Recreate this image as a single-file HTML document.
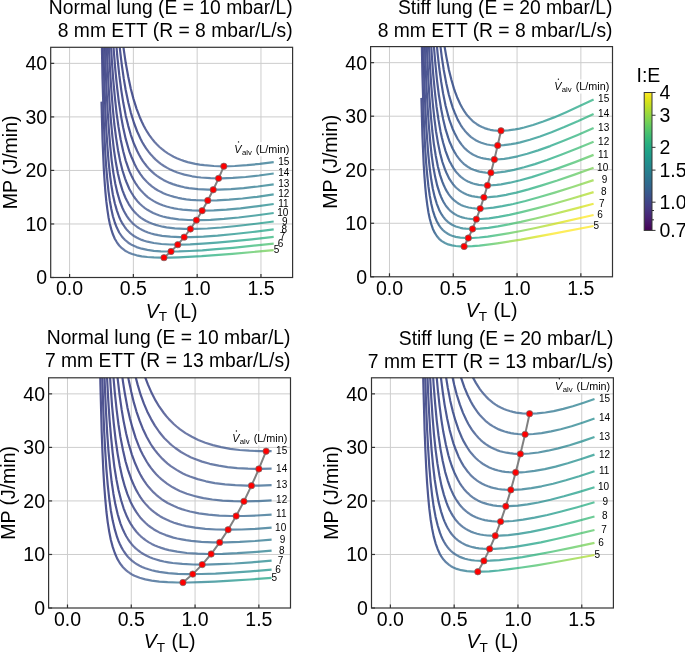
<!DOCTYPE html>
<html><head><meta charset="utf-8"><style>html,body{margin:0;padding:0;background:#fff;}body{width:685px;height:653px;overflow:hidden;font-family:"Liberation Sans", sans-serif;}svg{display:block;will-change:transform;}</style></head>
<body><svg width="685" height="653" viewBox="0 0 685 653" font-family='"Liberation Sans", sans-serif'><defs><clipPath id="c0"><rect x="50.7" y="47.3" width="241.9" height="230.2"/></clipPath><linearGradient id="g1" gradientUnits="userSpaceOnUse" x1="101.48" y1="0" x2="273.72" y2="0"><stop offset="0.0000" stop-color="#404688" stop-opacity="0.92"/><stop offset="0.0023" stop-color="#404688" stop-opacity="0.92"/><stop offset="0.0081" stop-color="#404688" stop-opacity="0.92"/><stop offset="0.0168" stop-color="#3f4788" stop-opacity="0.92"/><stop offset="0.0283" stop-color="#3f4889" stop-opacity="0.92"/><stop offset="0.0423" stop-color="#3e4989" stop-opacity="0.92"/><stop offset="0.0587" stop-color="#3e4a89" stop-opacity="0.92"/><stop offset="0.0774" stop-color="#3d4e8a" stop-opacity="0.87"/><stop offset="0.0985" stop-color="#3c508b" stop-opacity="0.80"/><stop offset="0.1217" stop-color="#3a548c" stop-opacity="0.75"/><stop offset="0.1471" stop-color="#38598c" stop-opacity="0.75"/><stop offset="0.1747" stop-color="#355e8d" stop-opacity="0.75"/><stop offset="0.2043" stop-color="#32648e" stop-opacity="0.75"/><stop offset="0.2359" stop-color="#306a8e" stop-opacity="0.75"/><stop offset="0.2696" stop-color="#2d708e" stop-opacity="0.75"/><stop offset="0.3052" stop-color="#2a768e" stop-opacity="0.75"/><stop offset="0.3428" stop-color="#287d8e" stop-opacity="0.75"/><stop offset="0.3824" stop-color="#25848e" stop-opacity="0.75"/><stop offset="0.4238" stop-color="#228c8d" stop-opacity="0.75"/><stop offset="0.4671" stop-color="#20928c" stop-opacity="0.75"/><stop offset="0.5123" stop-color="#1f9a8a" stop-opacity="0.75"/><stop offset="0.5593" stop-color="#1fa187" stop-opacity="0.75"/><stop offset="0.6082" stop-color="#23a983" stop-opacity="0.75"/><stop offset="0.6589" stop-color="#29af7f" stop-opacity="0.75"/><stop offset="0.7113" stop-color="#34b679" stop-opacity="0.75"/><stop offset="0.7656" stop-color="#3fbc73" stop-opacity="0.75"/><stop offset="0.8216" stop-color="#4cc26c" stop-opacity="0.75"/><stop offset="0.8793" stop-color="#5cc863" stop-opacity="0.75"/><stop offset="0.9388" stop-color="#6ccd5a" stop-opacity="0.75"/><stop offset="1.0000" stop-color="#7ad151" stop-opacity="0.75"/></linearGradient><linearGradient id="g2" gradientUnits="userSpaceOnUse" x1="101.48" y1="0" x2="273.72" y2="0"><stop offset="0.0000" stop-color="#404588" stop-opacity="0.92"/><stop offset="0.0023" stop-color="#404688" stop-opacity="0.92"/><stop offset="0.0081" stop-color="#404688" stop-opacity="0.92"/><stop offset="0.0168" stop-color="#404688" stop-opacity="0.92"/><stop offset="0.0283" stop-color="#3f4788" stop-opacity="0.92"/><stop offset="0.0423" stop-color="#3f4889" stop-opacity="0.92"/><stop offset="0.0587" stop-color="#3e4989" stop-opacity="0.92"/><stop offset="0.0774" stop-color="#3e4a89" stop-opacity="0.92"/><stop offset="0.0985" stop-color="#3d4d8a" stop-opacity="0.86"/><stop offset="0.1217" stop-color="#3c508b" stop-opacity="0.79"/><stop offset="0.1471" stop-color="#3a538b" stop-opacity="0.75"/><stop offset="0.1747" stop-color="#38588c" stop-opacity="0.75"/><stop offset="0.2043" stop-color="#365c8d" stop-opacity="0.75"/><stop offset="0.2359" stop-color="#34618d" stop-opacity="0.75"/><stop offset="0.2696" stop-color="#31668e" stop-opacity="0.75"/><stop offset="0.3052" stop-color="#2f6c8e" stop-opacity="0.75"/><stop offset="0.3428" stop-color="#2c718e" stop-opacity="0.75"/><stop offset="0.3824" stop-color="#2a788e" stop-opacity="0.75"/><stop offset="0.4238" stop-color="#277e8e" stop-opacity="0.75"/><stop offset="0.4671" stop-color="#25848e" stop-opacity="0.75"/><stop offset="0.5123" stop-color="#228b8d" stop-opacity="0.75"/><stop offset="0.5593" stop-color="#20928c" stop-opacity="0.75"/><stop offset="0.6082" stop-color="#1f988b" stop-opacity="0.75"/><stop offset="0.6589" stop-color="#1f9f88" stop-opacity="0.75"/><stop offset="0.7113" stop-color="#21a585" stop-opacity="0.75"/><stop offset="0.7656" stop-color="#25ac82" stop-opacity="0.75"/><stop offset="0.8216" stop-color="#2db27d" stop-opacity="0.75"/><stop offset="0.8793" stop-color="#37b878" stop-opacity="0.75"/><stop offset="0.9388" stop-color="#42be71" stop-opacity="0.75"/><stop offset="1.0000" stop-color="#4ec36b" stop-opacity="0.75"/></linearGradient><linearGradient id="g3" gradientUnits="userSpaceOnUse" x1="101.48" y1="0" x2="273.72" y2="0"><stop offset="0.0000" stop-color="#404588" stop-opacity="0.92"/><stop offset="0.0023" stop-color="#404588" stop-opacity="0.92"/><stop offset="0.0081" stop-color="#404688" stop-opacity="0.92"/><stop offset="0.0168" stop-color="#404688" stop-opacity="0.92"/><stop offset="0.0283" stop-color="#404688" stop-opacity="0.92"/><stop offset="0.0423" stop-color="#3f4788" stop-opacity="0.92"/><stop offset="0.0587" stop-color="#3f4889" stop-opacity="0.92"/><stop offset="0.0774" stop-color="#3e4989" stop-opacity="0.92"/><stop offset="0.0985" stop-color="#3e4a89" stop-opacity="0.91"/><stop offset="0.1217" stop-color="#3d4d8a" stop-opacity="0.85"/><stop offset="0.1471" stop-color="#3c508b" stop-opacity="0.78"/><stop offset="0.1747" stop-color="#3a538b" stop-opacity="0.75"/><stop offset="0.2043" stop-color="#39568c" stop-opacity="0.75"/><stop offset="0.2359" stop-color="#375b8d" stop-opacity="0.75"/><stop offset="0.2696" stop-color="#355f8d" stop-opacity="0.75"/><stop offset="0.3052" stop-color="#32648e" stop-opacity="0.75"/><stop offset="0.3428" stop-color="#30698e" stop-opacity="0.75"/><stop offset="0.3824" stop-color="#2e6f8e" stop-opacity="0.75"/><stop offset="0.4238" stop-color="#2b748e" stop-opacity="0.75"/><stop offset="0.4671" stop-color="#297a8e" stop-opacity="0.75"/><stop offset="0.5123" stop-color="#27808e" stop-opacity="0.75"/><stop offset="0.5593" stop-color="#25858e" stop-opacity="0.75"/><stop offset="0.6082" stop-color="#228c8d" stop-opacity="0.75"/><stop offset="0.6589" stop-color="#20928c" stop-opacity="0.75"/><stop offset="0.7113" stop-color="#1f988b" stop-opacity="0.75"/><stop offset="0.7656" stop-color="#1f9e89" stop-opacity="0.75"/><stop offset="0.8216" stop-color="#20a486" stop-opacity="0.75"/><stop offset="0.8793" stop-color="#24aa83" stop-opacity="0.75"/><stop offset="0.9388" stop-color="#29af7f" stop-opacity="0.75"/><stop offset="1.0000" stop-color="#32b67a" stop-opacity="0.75"/></linearGradient><linearGradient id="g4" gradientUnits="userSpaceOnUse" x1="101.48" y1="0" x2="273.72" y2="0"><stop offset="0.0000" stop-color="#404588" stop-opacity="0.92"/><stop offset="0.0023" stop-color="#404588" stop-opacity="0.92"/><stop offset="0.0081" stop-color="#404588" stop-opacity="0.92"/><stop offset="0.0168" stop-color="#404688" stop-opacity="0.92"/><stop offset="0.0283" stop-color="#404688" stop-opacity="0.92"/><stop offset="0.0423" stop-color="#404688" stop-opacity="0.92"/><stop offset="0.0587" stop-color="#3f4788" stop-opacity="0.92"/><stop offset="0.0774" stop-color="#3f4889" stop-opacity="0.92"/><stop offset="0.0985" stop-color="#3e4989" stop-opacity="0.92"/><stop offset="0.1217" stop-color="#3e4c8a" stop-opacity="0.89"/><stop offset="0.1471" stop-color="#3d4e8a" stop-opacity="0.83"/><stop offset="0.1747" stop-color="#3c508b" stop-opacity="0.76"/><stop offset="0.2043" stop-color="#3a538b" stop-opacity="0.75"/><stop offset="0.2359" stop-color="#39568c" stop-opacity="0.75"/><stop offset="0.2696" stop-color="#375a8c" stop-opacity="0.75"/><stop offset="0.3052" stop-color="#355e8d" stop-opacity="0.75"/><stop offset="0.3428" stop-color="#33638d" stop-opacity="0.75"/><stop offset="0.3824" stop-color="#31688e" stop-opacity="0.75"/><stop offset="0.4238" stop-color="#2e6d8e" stop-opacity="0.75"/><stop offset="0.4671" stop-color="#2c718e" stop-opacity="0.75"/><stop offset="0.5123" stop-color="#2a768e" stop-opacity="0.75"/><stop offset="0.5593" stop-color="#287c8e" stop-opacity="0.75"/><stop offset="0.6082" stop-color="#26828e" stop-opacity="0.75"/><stop offset="0.6589" stop-color="#24878e" stop-opacity="0.75"/><stop offset="0.7113" stop-color="#228d8d" stop-opacity="0.75"/><stop offset="0.7656" stop-color="#20928c" stop-opacity="0.75"/><stop offset="0.8216" stop-color="#1f988b" stop-opacity="0.75"/><stop offset="0.8793" stop-color="#1f9e89" stop-opacity="0.75"/><stop offset="0.9388" stop-color="#20a386" stop-opacity="0.75"/><stop offset="1.0000" stop-color="#23a983" stop-opacity="0.75"/></linearGradient><linearGradient id="g5" gradientUnits="userSpaceOnUse" x1="101.48" y1="0" x2="273.72" y2="0"><stop offset="0.0000" stop-color="#404588" stop-opacity="0.92"/><stop offset="0.0023" stop-color="#404588" stop-opacity="0.92"/><stop offset="0.0081" stop-color="#404588" stop-opacity="0.92"/><stop offset="0.0168" stop-color="#404588" stop-opacity="0.92"/><stop offset="0.0283" stop-color="#404688" stop-opacity="0.92"/><stop offset="0.0423" stop-color="#404688" stop-opacity="0.92"/><stop offset="0.0587" stop-color="#3f4788" stop-opacity="0.92"/><stop offset="0.0774" stop-color="#3f4788" stop-opacity="0.92"/><stop offset="0.0985" stop-color="#3f4889" stop-opacity="0.92"/><stop offset="0.1217" stop-color="#3e4a89" stop-opacity="0.92"/><stop offset="0.1471" stop-color="#3e4c8a" stop-opacity="0.87"/><stop offset="0.1747" stop-color="#3d4e8a" stop-opacity="0.81"/><stop offset="0.2043" stop-color="#3c508b" stop-opacity="0.75"/><stop offset="0.2359" stop-color="#3a538b" stop-opacity="0.75"/><stop offset="0.2696" stop-color="#39568c" stop-opacity="0.75"/><stop offset="0.3052" stop-color="#375a8c" stop-opacity="0.75"/><stop offset="0.3428" stop-color="#355e8d" stop-opacity="0.75"/><stop offset="0.3824" stop-color="#33628d" stop-opacity="0.75"/><stop offset="0.4238" stop-color="#31668e" stop-opacity="0.75"/><stop offset="0.4671" stop-color="#2f6b8e" stop-opacity="0.75"/><stop offset="0.5123" stop-color="#2d708e" stop-opacity="0.75"/><stop offset="0.5593" stop-color="#2b748e" stop-opacity="0.75"/><stop offset="0.6082" stop-color="#29798e" stop-opacity="0.75"/><stop offset="0.6589" stop-color="#277f8e" stop-opacity="0.75"/><stop offset="0.7113" stop-color="#25838e" stop-opacity="0.75"/><stop offset="0.7656" stop-color="#23898e" stop-opacity="0.75"/><stop offset="0.8216" stop-color="#218f8d" stop-opacity="0.75"/><stop offset="0.8793" stop-color="#20938c" stop-opacity="0.75"/><stop offset="0.9388" stop-color="#1f998a" stop-opacity="0.75"/><stop offset="1.0000" stop-color="#1f9f88" stop-opacity="0.75"/></linearGradient><linearGradient id="g6" gradientUnits="userSpaceOnUse" x1="101.48" y1="0" x2="273.72" y2="0"><stop offset="0.0000" stop-color="#404588" stop-opacity="0.92"/><stop offset="0.0023" stop-color="#404588" stop-opacity="0.92"/><stop offset="0.0081" stop-color="#404588" stop-opacity="0.92"/><stop offset="0.0168" stop-color="#404588" stop-opacity="0.92"/><stop offset="0.0283" stop-color="#404688" stop-opacity="0.92"/><stop offset="0.0423" stop-color="#404688" stop-opacity="0.92"/><stop offset="0.0587" stop-color="#404688" stop-opacity="0.92"/><stop offset="0.0774" stop-color="#3f4788" stop-opacity="0.92"/><stop offset="0.0985" stop-color="#3f4889" stop-opacity="0.92"/><stop offset="0.1217" stop-color="#3e4989" stop-opacity="0.92"/><stop offset="0.1471" stop-color="#3e4a89" stop-opacity="0.90"/><stop offset="0.1747" stop-color="#3d4d8a" stop-opacity="0.85"/><stop offset="0.2043" stop-color="#3d4e8a" stop-opacity="0.79"/><stop offset="0.2359" stop-color="#3b518b" stop-opacity="0.75"/><stop offset="0.2696" stop-color="#3a538b" stop-opacity="0.75"/><stop offset="0.3052" stop-color="#39568c" stop-opacity="0.75"/><stop offset="0.3428" stop-color="#375a8c" stop-opacity="0.75"/><stop offset="0.3824" stop-color="#355e8d" stop-opacity="0.75"/><stop offset="0.4238" stop-color="#34618d" stop-opacity="0.75"/><stop offset="0.4671" stop-color="#31668e" stop-opacity="0.75"/><stop offset="0.5123" stop-color="#306a8e" stop-opacity="0.75"/><stop offset="0.5593" stop-color="#2e6f8e" stop-opacity="0.75"/><stop offset="0.6082" stop-color="#2c728e" stop-opacity="0.75"/><stop offset="0.6589" stop-color="#2a778e" stop-opacity="0.75"/><stop offset="0.7113" stop-color="#287c8e" stop-opacity="0.75"/><stop offset="0.7656" stop-color="#26828e" stop-opacity="0.75"/><stop offset="0.8216" stop-color="#24868e" stop-opacity="0.75"/><stop offset="0.8793" stop-color="#228b8d" stop-opacity="0.75"/><stop offset="0.9388" stop-color="#21918c" stop-opacity="0.75"/><stop offset="1.0000" stop-color="#1f958b" stop-opacity="0.75"/></linearGradient><linearGradient id="g7" gradientUnits="userSpaceOnUse" x1="101.48" y1="0" x2="273.72" y2="0"><stop offset="0.0000" stop-color="#404588" stop-opacity="0.92"/><stop offset="0.0023" stop-color="#404588" stop-opacity="0.92"/><stop offset="0.0081" stop-color="#404588" stop-opacity="0.92"/><stop offset="0.0168" stop-color="#404588" stop-opacity="0.92"/><stop offset="0.0283" stop-color="#404588" stop-opacity="0.92"/><stop offset="0.0423" stop-color="#404688" stop-opacity="0.92"/><stop offset="0.0587" stop-color="#404688" stop-opacity="0.92"/><stop offset="0.0774" stop-color="#3f4788" stop-opacity="0.92"/><stop offset="0.0985" stop-color="#3f4788" stop-opacity="0.92"/><stop offset="0.1217" stop-color="#3f4889" stop-opacity="0.92"/><stop offset="0.1471" stop-color="#3e4989" stop-opacity="0.92"/><stop offset="0.1747" stop-color="#3e4a89" stop-opacity="0.88"/><stop offset="0.2043" stop-color="#3d4d8a" stop-opacity="0.82"/><stop offset="0.2359" stop-color="#3c4f8a" stop-opacity="0.76"/><stop offset="0.2696" stop-color="#3b518b" stop-opacity="0.75"/><stop offset="0.3052" stop-color="#3a538b" stop-opacity="0.75"/><stop offset="0.3428" stop-color="#39568c" stop-opacity="0.75"/><stop offset="0.3824" stop-color="#375a8c" stop-opacity="0.75"/><stop offset="0.4238" stop-color="#355e8d" stop-opacity="0.75"/><stop offset="0.4671" stop-color="#34618d" stop-opacity="0.75"/><stop offset="0.5123" stop-color="#32658e" stop-opacity="0.75"/><stop offset="0.5593" stop-color="#30698e" stop-opacity="0.75"/><stop offset="0.6082" stop-color="#2e6e8e" stop-opacity="0.75"/><stop offset="0.6589" stop-color="#2c718e" stop-opacity="0.75"/><stop offset="0.7113" stop-color="#2a768e" stop-opacity="0.75"/><stop offset="0.7656" stop-color="#297b8e" stop-opacity="0.75"/><stop offset="0.8216" stop-color="#277f8e" stop-opacity="0.75"/><stop offset="0.8793" stop-color="#25838e" stop-opacity="0.75"/><stop offset="0.9388" stop-color="#23898e" stop-opacity="0.75"/><stop offset="1.0000" stop-color="#218e8d" stop-opacity="0.75"/></linearGradient><linearGradient id="g8" gradientUnits="userSpaceOnUse" x1="101.48" y1="0" x2="273.72" y2="0"><stop offset="0.0000" stop-color="#404588" stop-opacity="0.92"/><stop offset="0.0023" stop-color="#404588" stop-opacity="0.92"/><stop offset="0.0081" stop-color="#404588" stop-opacity="0.92"/><stop offset="0.0168" stop-color="#404588" stop-opacity="0.92"/><stop offset="0.0283" stop-color="#404588" stop-opacity="0.92"/><stop offset="0.0423" stop-color="#404688" stop-opacity="0.92"/><stop offset="0.0587" stop-color="#404688" stop-opacity="0.92"/><stop offset="0.0774" stop-color="#404688" stop-opacity="0.92"/><stop offset="0.0985" stop-color="#3f4788" stop-opacity="0.92"/><stop offset="0.1217" stop-color="#3f4889" stop-opacity="0.92"/><stop offset="0.1471" stop-color="#3f4889" stop-opacity="0.92"/><stop offset="0.1747" stop-color="#3e4a89" stop-opacity="0.91"/><stop offset="0.2043" stop-color="#3e4c8a" stop-opacity="0.86"/><stop offset="0.2359" stop-color="#3d4e8a" stop-opacity="0.80"/><stop offset="0.2696" stop-color="#3c4f8a" stop-opacity="0.75"/><stop offset="0.3052" stop-color="#3b518b" stop-opacity="0.75"/><stop offset="0.3428" stop-color="#3a548c" stop-opacity="0.75"/><stop offset="0.3824" stop-color="#38588c" stop-opacity="0.75"/><stop offset="0.4238" stop-color="#375b8d" stop-opacity="0.75"/><stop offset="0.4671" stop-color="#355e8d" stop-opacity="0.75"/><stop offset="0.5123" stop-color="#34618d" stop-opacity="0.75"/><stop offset="0.5593" stop-color="#32658e" stop-opacity="0.75"/><stop offset="0.6082" stop-color="#30698e" stop-opacity="0.75"/><stop offset="0.6589" stop-color="#2e6d8e" stop-opacity="0.75"/><stop offset="0.7113" stop-color="#2d718e" stop-opacity="0.75"/><stop offset="0.7656" stop-color="#2b758e" stop-opacity="0.75"/><stop offset="0.8216" stop-color="#29798e" stop-opacity="0.75"/><stop offset="0.8793" stop-color="#277e8e" stop-opacity="0.75"/><stop offset="0.9388" stop-color="#26828e" stop-opacity="0.75"/><stop offset="1.0000" stop-color="#24868e" stop-opacity="0.75"/></linearGradient><linearGradient id="g9" gradientUnits="userSpaceOnUse" x1="101.48" y1="0" x2="273.72" y2="0"><stop offset="0.0000" stop-color="#404588" stop-opacity="0.92"/><stop offset="0.0023" stop-color="#404588" stop-opacity="0.92"/><stop offset="0.0081" stop-color="#404588" stop-opacity="0.92"/><stop offset="0.0168" stop-color="#404588" stop-opacity="0.92"/><stop offset="0.0283" stop-color="#404588" stop-opacity="0.92"/><stop offset="0.0423" stop-color="#404588" stop-opacity="0.92"/><stop offset="0.0587" stop-color="#404688" stop-opacity="0.92"/><stop offset="0.0774" stop-color="#404688" stop-opacity="0.92"/><stop offset="0.0985" stop-color="#3f4788" stop-opacity="0.92"/><stop offset="0.1217" stop-color="#3f4788" stop-opacity="0.92"/><stop offset="0.1471" stop-color="#3f4889" stop-opacity="0.92"/><stop offset="0.1747" stop-color="#3e4989" stop-opacity="0.92"/><stop offset="0.2043" stop-color="#3e4a89" stop-opacity="0.88"/><stop offset="0.2359" stop-color="#3e4c8a" stop-opacity="0.83"/><stop offset="0.2696" stop-color="#3d4e8a" stop-opacity="0.77"/><stop offset="0.3052" stop-color="#3c508b" stop-opacity="0.75"/><stop offset="0.3428" stop-color="#3b528b" stop-opacity="0.75"/><stop offset="0.3824" stop-color="#3a548c" stop-opacity="0.75"/><stop offset="0.4238" stop-color="#38588c" stop-opacity="0.75"/><stop offset="0.4671" stop-color="#375b8d" stop-opacity="0.75"/><stop offset="0.5123" stop-color="#355e8d" stop-opacity="0.75"/><stop offset="0.5593" stop-color="#34618d" stop-opacity="0.75"/><stop offset="0.6082" stop-color="#32658e" stop-opacity="0.75"/><stop offset="0.6589" stop-color="#30698e" stop-opacity="0.75"/><stop offset="0.7113" stop-color="#2e6d8e" stop-opacity="0.75"/><stop offset="0.7656" stop-color="#2d718e" stop-opacity="0.75"/><stop offset="0.8216" stop-color="#2b748e" stop-opacity="0.75"/><stop offset="0.8793" stop-color="#2a788e" stop-opacity="0.75"/><stop offset="0.9388" stop-color="#287d8e" stop-opacity="0.75"/><stop offset="1.0000" stop-color="#26818e" stop-opacity="0.75"/></linearGradient><linearGradient id="g10" gradientUnits="userSpaceOnUse" x1="101.48" y1="0" x2="273.72" y2="0"><stop offset="0.0000" stop-color="#404588" stop-opacity="0.92"/><stop offset="0.0023" stop-color="#404588" stop-opacity="0.92"/><stop offset="0.0081" stop-color="#404588" stop-opacity="0.92"/><stop offset="0.0168" stop-color="#404588" stop-opacity="0.92"/><stop offset="0.0283" stop-color="#404588" stop-opacity="0.92"/><stop offset="0.0423" stop-color="#404588" stop-opacity="0.92"/><stop offset="0.0587" stop-color="#404688" stop-opacity="0.92"/><stop offset="0.0774" stop-color="#404688" stop-opacity="0.92"/><stop offset="0.0985" stop-color="#404688" stop-opacity="0.92"/><stop offset="0.1217" stop-color="#3f4788" stop-opacity="0.92"/><stop offset="0.1471" stop-color="#3f4889" stop-opacity="0.92"/><stop offset="0.1747" stop-color="#3f4889" stop-opacity="0.92"/><stop offset="0.2043" stop-color="#3e4989" stop-opacity="0.91"/><stop offset="0.2359" stop-color="#3e4c8a" stop-opacity="0.86"/><stop offset="0.2696" stop-color="#3d4d8a" stop-opacity="0.81"/><stop offset="0.3052" stop-color="#3c4f8a" stop-opacity="0.75"/><stop offset="0.3428" stop-color="#3c508b" stop-opacity="0.75"/><stop offset="0.3824" stop-color="#3a538b" stop-opacity="0.75"/><stop offset="0.4238" stop-color="#39558c" stop-opacity="0.75"/><stop offset="0.4671" stop-color="#38588c" stop-opacity="0.75"/><stop offset="0.5123" stop-color="#375b8d" stop-opacity="0.75"/><stop offset="0.5593" stop-color="#355e8d" stop-opacity="0.75"/><stop offset="0.6082" stop-color="#34618d" stop-opacity="0.75"/><stop offset="0.6589" stop-color="#32658e" stop-opacity="0.75"/><stop offset="0.7113" stop-color="#30698e" stop-opacity="0.75"/><stop offset="0.7656" stop-color="#2f6c8e" stop-opacity="0.75"/><stop offset="0.8216" stop-color="#2d708e" stop-opacity="0.75"/><stop offset="0.8793" stop-color="#2c738e" stop-opacity="0.75"/><stop offset="0.9388" stop-color="#2a778e" stop-opacity="0.75"/><stop offset="1.0000" stop-color="#287c8e" stop-opacity="0.75"/></linearGradient><linearGradient id="g11" gradientUnits="userSpaceOnUse" x1="101.48" y1="0" x2="273.72" y2="0"><stop offset="0.0000" stop-color="#404588" stop-opacity="0.92"/><stop offset="0.0023" stop-color="#404588" stop-opacity="0.92"/><stop offset="0.0081" stop-color="#404588" stop-opacity="0.92"/><stop offset="0.0168" stop-color="#404588" stop-opacity="0.92"/><stop offset="0.0283" stop-color="#404588" stop-opacity="0.92"/><stop offset="0.0423" stop-color="#404588" stop-opacity="0.92"/><stop offset="0.0587" stop-color="#404688" stop-opacity="0.92"/><stop offset="0.0774" stop-color="#404688" stop-opacity="0.92"/><stop offset="0.0985" stop-color="#404688" stop-opacity="0.92"/><stop offset="0.1217" stop-color="#3f4788" stop-opacity="0.92"/><stop offset="0.1471" stop-color="#3f4788" stop-opacity="0.92"/><stop offset="0.1747" stop-color="#3f4889" stop-opacity="0.92"/><stop offset="0.2043" stop-color="#3e4989" stop-opacity="0.92"/><stop offset="0.2359" stop-color="#3e4a89" stop-opacity="0.88"/><stop offset="0.2696" stop-color="#3e4c8a" stop-opacity="0.83"/><stop offset="0.3052" stop-color="#3d4e8a" stop-opacity="0.78"/><stop offset="0.3428" stop-color="#3c4f8a" stop-opacity="0.75"/><stop offset="0.3824" stop-color="#3b518b" stop-opacity="0.75"/><stop offset="0.4238" stop-color="#3a538b" stop-opacity="0.75"/><stop offset="0.4671" stop-color="#39558c" stop-opacity="0.75"/><stop offset="0.5123" stop-color="#38598c" stop-opacity="0.75"/><stop offset="0.5593" stop-color="#365c8d" stop-opacity="0.75"/><stop offset="0.6082" stop-color="#355f8d" stop-opacity="0.75"/><stop offset="0.6589" stop-color="#33628d" stop-opacity="0.75"/><stop offset="0.7113" stop-color="#32658e" stop-opacity="0.75"/><stop offset="0.7656" stop-color="#30698e" stop-opacity="0.75"/><stop offset="0.8216" stop-color="#2f6c8e" stop-opacity="0.75"/><stop offset="0.8793" stop-color="#2d708e" stop-opacity="0.75"/><stop offset="0.9388" stop-color="#2c738e" stop-opacity="0.75"/><stop offset="1.0000" stop-color="#2a778e" stop-opacity="0.75"/></linearGradient><clipPath id="c1"><rect x="370.6" y="46.6" width="241.9" height="230.2"/></clipPath><linearGradient id="g12" gradientUnits="userSpaceOnUse" x1="421.38" y1="0" x2="593.62" y2="0"><stop offset="0.0000" stop-color="#3f4889" stop-opacity="0.92"/><stop offset="0.0023" stop-color="#3e4989" stop-opacity="0.92"/><stop offset="0.0081" stop-color="#3e4a89" stop-opacity="0.92"/><stop offset="0.0168" stop-color="#3d4d8a" stop-opacity="0.92"/><stop offset="0.0283" stop-color="#3c508b" stop-opacity="0.92"/><stop offset="0.0423" stop-color="#3a548c" stop-opacity="0.92"/><stop offset="0.0587" stop-color="#375a8c" stop-opacity="0.92"/><stop offset="0.0774" stop-color="#34618d" stop-opacity="0.86"/><stop offset="0.0985" stop-color="#30698e" stop-opacity="0.77"/><stop offset="0.1217" stop-color="#2c718e" stop-opacity="0.75"/><stop offset="0.1471" stop-color="#297b8e" stop-opacity="0.75"/><stop offset="0.1747" stop-color="#25858e" stop-opacity="0.75"/><stop offset="0.2043" stop-color="#21908d" stop-opacity="0.75"/><stop offset="0.2359" stop-color="#1f9a8a" stop-opacity="0.75"/><stop offset="0.2696" stop-color="#20a486" stop-opacity="0.75"/><stop offset="0.3052" stop-color="#28ae80" stop-opacity="0.75"/><stop offset="0.3428" stop-color="#35b779" stop-opacity="0.75"/><stop offset="0.3824" stop-color="#48c16e" stop-opacity="0.75"/><stop offset="0.4238" stop-color="#5cc863" stop-opacity="0.75"/><stop offset="0.4671" stop-color="#73d056" stop-opacity="0.75"/><stop offset="0.5123" stop-color="#8bd646" stop-opacity="0.75"/><stop offset="0.5593" stop-color="#a2da37" stop-opacity="0.75"/><stop offset="0.6082" stop-color="#bade28" stop-opacity="0.75"/><stop offset="0.6589" stop-color="#d2e21b" stop-opacity="0.75"/><stop offset="0.7113" stop-color="#eae51a" stop-opacity="0.75"/><stop offset="0.7656" stop-color="#fde725" stop-opacity="0.75"/><stop offset="0.8216" stop-color="#fde725" stop-opacity="0.75"/><stop offset="0.8793" stop-color="#fde725" stop-opacity="0.75"/><stop offset="0.9388" stop-color="#fde725" stop-opacity="0.75"/><stop offset="1.0000" stop-color="#fde725" stop-opacity="0.75"/></linearGradient><linearGradient id="g13" gradientUnits="userSpaceOnUse" x1="421.38" y1="0" x2="593.62" y2="0"><stop offset="0.0000" stop-color="#3f4788" stop-opacity="0.92"/><stop offset="0.0023" stop-color="#3f4889" stop-opacity="0.92"/><stop offset="0.0081" stop-color="#3f4889" stop-opacity="0.92"/><stop offset="0.0168" stop-color="#3e4a89" stop-opacity="0.92"/><stop offset="0.0283" stop-color="#3d4d8a" stop-opacity="0.92"/><stop offset="0.0423" stop-color="#3c508b" stop-opacity="0.92"/><stop offset="0.0587" stop-color="#3a548c" stop-opacity="0.92"/><stop offset="0.0774" stop-color="#375a8c" stop-opacity="0.92"/><stop offset="0.0985" stop-color="#34618d" stop-opacity="0.85"/><stop offset="0.1217" stop-color="#31688e" stop-opacity="0.76"/><stop offset="0.1471" stop-color="#2d708e" stop-opacity="0.75"/><stop offset="0.1747" stop-color="#2a788e" stop-opacity="0.75"/><stop offset="0.2043" stop-color="#26828e" stop-opacity="0.75"/><stop offset="0.2359" stop-color="#228b8d" stop-opacity="0.75"/><stop offset="0.2696" stop-color="#1f948c" stop-opacity="0.75"/><stop offset="0.3052" stop-color="#1f9e89" stop-opacity="0.75"/><stop offset="0.3428" stop-color="#22a785" stop-opacity="0.75"/><stop offset="0.3824" stop-color="#2ab07f" stop-opacity="0.75"/><stop offset="0.4238" stop-color="#38b977" stop-opacity="0.75"/><stop offset="0.4671" stop-color="#48c16e" stop-opacity="0.75"/><stop offset="0.5123" stop-color="#5cc863" stop-opacity="0.75"/><stop offset="0.5593" stop-color="#70cf57" stop-opacity="0.75"/><stop offset="0.6082" stop-color="#84d44b" stop-opacity="0.75"/><stop offset="0.6589" stop-color="#9bd93c" stop-opacity="0.75"/><stop offset="0.7113" stop-color="#b0dd2f" stop-opacity="0.75"/><stop offset="0.7656" stop-color="#c8e020" stop-opacity="0.75"/><stop offset="0.8216" stop-color="#dae319" stop-opacity="0.75"/><stop offset="0.8793" stop-color="#efe51c" stop-opacity="0.75"/><stop offset="0.9388" stop-color="#fde725" stop-opacity="0.75"/><stop offset="1.0000" stop-color="#fde725" stop-opacity="0.75"/></linearGradient><linearGradient id="g14" gradientUnits="userSpaceOnUse" x1="421.38" y1="0" x2="593.62" y2="0"><stop offset="0.0000" stop-color="#3f4788" stop-opacity="0.92"/><stop offset="0.0023" stop-color="#3f4788" stop-opacity="0.92"/><stop offset="0.0081" stop-color="#3f4788" stop-opacity="0.92"/><stop offset="0.0168" stop-color="#3f4889" stop-opacity="0.92"/><stop offset="0.0283" stop-color="#3e4a89" stop-opacity="0.92"/><stop offset="0.0423" stop-color="#3d4d8a" stop-opacity="0.92"/><stop offset="0.0587" stop-color="#3b518b" stop-opacity="0.92"/><stop offset="0.0774" stop-color="#39558c" stop-opacity="0.92"/><stop offset="0.0985" stop-color="#375b8d" stop-opacity="0.90"/><stop offset="0.1217" stop-color="#34618d" stop-opacity="0.83"/><stop offset="0.1471" stop-color="#31688e" stop-opacity="0.75"/><stop offset="0.1747" stop-color="#2e6f8e" stop-opacity="0.75"/><stop offset="0.2043" stop-color="#2a778e" stop-opacity="0.75"/><stop offset="0.2359" stop-color="#277f8e" stop-opacity="0.75"/><stop offset="0.2696" stop-color="#24878e" stop-opacity="0.75"/><stop offset="0.3052" stop-color="#21918c" stop-opacity="0.75"/><stop offset="0.3428" stop-color="#1f998a" stop-opacity="0.75"/><stop offset="0.3824" stop-color="#1fa187" stop-opacity="0.75"/><stop offset="0.4238" stop-color="#25ab82" stop-opacity="0.75"/><stop offset="0.4671" stop-color="#2eb37c" stop-opacity="0.75"/><stop offset="0.5123" stop-color="#3bbb75" stop-opacity="0.75"/><stop offset="0.5593" stop-color="#4cc26c" stop-opacity="0.75"/><stop offset="0.6082" stop-color="#5cc863" stop-opacity="0.75"/><stop offset="0.6589" stop-color="#70cf57" stop-opacity="0.75"/><stop offset="0.7113" stop-color="#84d44b" stop-opacity="0.75"/><stop offset="0.7656" stop-color="#98d83e" stop-opacity="0.75"/><stop offset="0.8216" stop-color="#addc30" stop-opacity="0.75"/><stop offset="0.8793" stop-color="#c0df25" stop-opacity="0.75"/><stop offset="0.9388" stop-color="#d2e21b" stop-opacity="0.75"/><stop offset="1.0000" stop-color="#e7e419" stop-opacity="0.75"/></linearGradient><linearGradient id="g15" gradientUnits="userSpaceOnUse" x1="421.38" y1="0" x2="593.62" y2="0"><stop offset="0.0000" stop-color="#404688" stop-opacity="0.92"/><stop offset="0.0023" stop-color="#404688" stop-opacity="0.92"/><stop offset="0.0081" stop-color="#3f4788" stop-opacity="0.92"/><stop offset="0.0168" stop-color="#3f4889" stop-opacity="0.92"/><stop offset="0.0283" stop-color="#3e4989" stop-opacity="0.92"/><stop offset="0.0423" stop-color="#3e4c8a" stop-opacity="0.92"/><stop offset="0.0587" stop-color="#3d4e8a" stop-opacity="0.92"/><stop offset="0.0774" stop-color="#3b528b" stop-opacity="0.92"/><stop offset="0.0985" stop-color="#39568c" stop-opacity="0.92"/><stop offset="0.1217" stop-color="#365c8d" stop-opacity="0.88"/><stop offset="0.1471" stop-color="#34618d" stop-opacity="0.80"/><stop offset="0.1747" stop-color="#31688e" stop-opacity="0.75"/><stop offset="0.2043" stop-color="#2e6f8e" stop-opacity="0.75"/><stop offset="0.2359" stop-color="#2a768e" stop-opacity="0.75"/><stop offset="0.2696" stop-color="#277e8e" stop-opacity="0.75"/><stop offset="0.3052" stop-color="#24868e" stop-opacity="0.75"/><stop offset="0.3428" stop-color="#218e8d" stop-opacity="0.75"/><stop offset="0.3824" stop-color="#1f968b" stop-opacity="0.75"/><stop offset="0.4238" stop-color="#1f9f88" stop-opacity="0.75"/><stop offset="0.4671" stop-color="#21a685" stop-opacity="0.75"/><stop offset="0.5123" stop-color="#28ae80" stop-opacity="0.75"/><stop offset="0.5593" stop-color="#32b67a" stop-opacity="0.75"/><stop offset="0.6082" stop-color="#40bd72" stop-opacity="0.75"/><stop offset="0.6589" stop-color="#50c46a" stop-opacity="0.75"/><stop offset="0.7113" stop-color="#60ca60" stop-opacity="0.75"/><stop offset="0.7656" stop-color="#73d056" stop-opacity="0.75"/><stop offset="0.8216" stop-color="#84d44b" stop-opacity="0.75"/><stop offset="0.8793" stop-color="#98d83e" stop-opacity="0.75"/><stop offset="0.9388" stop-color="#aadc32" stop-opacity="0.75"/><stop offset="1.0000" stop-color="#bddf26" stop-opacity="0.75"/></linearGradient><linearGradient id="g16" gradientUnits="userSpaceOnUse" x1="421.38" y1="0" x2="593.62" y2="0"><stop offset="0.0000" stop-color="#404688" stop-opacity="0.92"/><stop offset="0.0023" stop-color="#404688" stop-opacity="0.92"/><stop offset="0.0081" stop-color="#404688" stop-opacity="0.92"/><stop offset="0.0168" stop-color="#3f4788" stop-opacity="0.92"/><stop offset="0.0283" stop-color="#3f4889" stop-opacity="0.92"/><stop offset="0.0423" stop-color="#3e4a89" stop-opacity="0.92"/><stop offset="0.0587" stop-color="#3d4d8a" stop-opacity="0.92"/><stop offset="0.0774" stop-color="#3c4f8a" stop-opacity="0.92"/><stop offset="0.0985" stop-color="#3a538b" stop-opacity="0.92"/><stop offset="0.1217" stop-color="#38588c" stop-opacity="0.91"/><stop offset="0.1471" stop-color="#365d8d" stop-opacity="0.85"/><stop offset="0.1747" stop-color="#33628d" stop-opacity="0.77"/><stop offset="0.2043" stop-color="#30698e" stop-opacity="0.75"/><stop offset="0.2359" stop-color="#2d708e" stop-opacity="0.75"/><stop offset="0.2696" stop-color="#2a768e" stop-opacity="0.75"/><stop offset="0.3052" stop-color="#277e8e" stop-opacity="0.75"/><stop offset="0.3428" stop-color="#25858e" stop-opacity="0.75"/><stop offset="0.3824" stop-color="#228d8d" stop-opacity="0.75"/><stop offset="0.4238" stop-color="#1f948c" stop-opacity="0.75"/><stop offset="0.4671" stop-color="#1e9c89" stop-opacity="0.75"/><stop offset="0.5123" stop-color="#20a386" stop-opacity="0.75"/><stop offset="0.5593" stop-color="#25ab82" stop-opacity="0.75"/><stop offset="0.6082" stop-color="#2db27d" stop-opacity="0.75"/><stop offset="0.6589" stop-color="#38b977" stop-opacity="0.75"/><stop offset="0.7113" stop-color="#46c06f" stop-opacity="0.75"/><stop offset="0.7656" stop-color="#56c667" stop-opacity="0.75"/><stop offset="0.8216" stop-color="#65cb5e" stop-opacity="0.75"/><stop offset="0.8793" stop-color="#75d054" stop-opacity="0.75"/><stop offset="0.9388" stop-color="#86d549" stop-opacity="0.75"/><stop offset="1.0000" stop-color="#98d83e" stop-opacity="0.75"/></linearGradient><linearGradient id="g17" gradientUnits="userSpaceOnUse" x1="421.38" y1="0" x2="593.62" y2="0"><stop offset="0.0000" stop-color="#404688" stop-opacity="0.92"/><stop offset="0.0023" stop-color="#404688" stop-opacity="0.92"/><stop offset="0.0081" stop-color="#404688" stop-opacity="0.92"/><stop offset="0.0168" stop-color="#3f4788" stop-opacity="0.92"/><stop offset="0.0283" stop-color="#3f4889" stop-opacity="0.92"/><stop offset="0.0423" stop-color="#3e4989" stop-opacity="0.92"/><stop offset="0.0587" stop-color="#3e4a89" stop-opacity="0.92"/><stop offset="0.0774" stop-color="#3d4e8a" stop-opacity="0.92"/><stop offset="0.0985" stop-color="#3c508b" stop-opacity="0.92"/><stop offset="0.1217" stop-color="#3a548c" stop-opacity="0.92"/><stop offset="0.1471" stop-color="#38598c" stop-opacity="0.89"/><stop offset="0.1747" stop-color="#355e8d" stop-opacity="0.82"/><stop offset="0.2043" stop-color="#32648e" stop-opacity="0.75"/><stop offset="0.2359" stop-color="#306a8e" stop-opacity="0.75"/><stop offset="0.2696" stop-color="#2d708e" stop-opacity="0.75"/><stop offset="0.3052" stop-color="#2a768e" stop-opacity="0.75"/><stop offset="0.3428" stop-color="#287d8e" stop-opacity="0.75"/><stop offset="0.3824" stop-color="#25848e" stop-opacity="0.75"/><stop offset="0.4238" stop-color="#228c8d" stop-opacity="0.75"/><stop offset="0.4671" stop-color="#20928c" stop-opacity="0.75"/><stop offset="0.5123" stop-color="#1f9a8a" stop-opacity="0.75"/><stop offset="0.5593" stop-color="#1fa187" stop-opacity="0.75"/><stop offset="0.6082" stop-color="#23a983" stop-opacity="0.75"/><stop offset="0.6589" stop-color="#29af7f" stop-opacity="0.75"/><stop offset="0.7113" stop-color="#34b679" stop-opacity="0.75"/><stop offset="0.7656" stop-color="#3fbc73" stop-opacity="0.75"/><stop offset="0.8216" stop-color="#4cc26c" stop-opacity="0.75"/><stop offset="0.8793" stop-color="#5cc863" stop-opacity="0.75"/><stop offset="0.9388" stop-color="#6ccd5a" stop-opacity="0.75"/><stop offset="1.0000" stop-color="#7ad151" stop-opacity="0.75"/></linearGradient><linearGradient id="g18" gradientUnits="userSpaceOnUse" x1="421.38" y1="0" x2="593.62" y2="0"><stop offset="0.0000" stop-color="#404688" stop-opacity="0.92"/><stop offset="0.0023" stop-color="#404688" stop-opacity="0.92"/><stop offset="0.0081" stop-color="#404688" stop-opacity="0.92"/><stop offset="0.0168" stop-color="#404688" stop-opacity="0.92"/><stop offset="0.0283" stop-color="#3f4788" stop-opacity="0.92"/><stop offset="0.0423" stop-color="#3f4889" stop-opacity="0.92"/><stop offset="0.0587" stop-color="#3e4989" stop-opacity="0.92"/><stop offset="0.0774" stop-color="#3e4c8a" stop-opacity="0.92"/><stop offset="0.0985" stop-color="#3c4f8a" stop-opacity="0.92"/><stop offset="0.1217" stop-color="#3b528b" stop-opacity="0.92"/><stop offset="0.1471" stop-color="#39558c" stop-opacity="0.92"/><stop offset="0.1747" stop-color="#375b8d" stop-opacity="0.86"/><stop offset="0.2043" stop-color="#355f8d" stop-opacity="0.78"/><stop offset="0.2359" stop-color="#32658e" stop-opacity="0.75"/><stop offset="0.2696" stop-color="#2f6b8e" stop-opacity="0.75"/><stop offset="0.3052" stop-color="#2d718e" stop-opacity="0.75"/><stop offset="0.3428" stop-color="#2a778e" stop-opacity="0.75"/><stop offset="0.3824" stop-color="#277e8e" stop-opacity="0.75"/><stop offset="0.4238" stop-color="#25848e" stop-opacity="0.75"/><stop offset="0.4671" stop-color="#228b8d" stop-opacity="0.75"/><stop offset="0.5123" stop-color="#20928c" stop-opacity="0.75"/><stop offset="0.5593" stop-color="#1f998a" stop-opacity="0.75"/><stop offset="0.6082" stop-color="#1fa088" stop-opacity="0.75"/><stop offset="0.6589" stop-color="#22a785" stop-opacity="0.75"/><stop offset="0.7113" stop-color="#27ad81" stop-opacity="0.75"/><stop offset="0.7656" stop-color="#2fb47c" stop-opacity="0.75"/><stop offset="0.8216" stop-color="#3aba76" stop-opacity="0.75"/><stop offset="0.8793" stop-color="#46c06f" stop-opacity="0.75"/><stop offset="0.9388" stop-color="#54c568" stop-opacity="0.75"/><stop offset="1.0000" stop-color="#63cb5f" stop-opacity="0.75"/></linearGradient><linearGradient id="g19" gradientUnits="userSpaceOnUse" x1="421.38" y1="0" x2="593.62" y2="0"><stop offset="0.0000" stop-color="#404588" stop-opacity="0.92"/><stop offset="0.0023" stop-color="#404688" stop-opacity="0.92"/><stop offset="0.0081" stop-color="#404688" stop-opacity="0.92"/><stop offset="0.0168" stop-color="#404688" stop-opacity="0.92"/><stop offset="0.0283" stop-color="#3f4788" stop-opacity="0.92"/><stop offset="0.0423" stop-color="#3f4889" stop-opacity="0.92"/><stop offset="0.0587" stop-color="#3e4989" stop-opacity="0.92"/><stop offset="0.0774" stop-color="#3e4a89" stop-opacity="0.92"/><stop offset="0.0985" stop-color="#3d4d8a" stop-opacity="0.92"/><stop offset="0.1217" stop-color="#3c508b" stop-opacity="0.92"/><stop offset="0.1471" stop-color="#3a538b" stop-opacity="0.92"/><stop offset="0.1747" stop-color="#38588c" stop-opacity="0.89"/><stop offset="0.2043" stop-color="#365c8d" stop-opacity="0.82"/><stop offset="0.2359" stop-color="#34618d" stop-opacity="0.75"/><stop offset="0.2696" stop-color="#31668e" stop-opacity="0.75"/><stop offset="0.3052" stop-color="#2f6c8e" stop-opacity="0.75"/><stop offset="0.3428" stop-color="#2c718e" stop-opacity="0.75"/><stop offset="0.3824" stop-color="#2a788e" stop-opacity="0.75"/><stop offset="0.4238" stop-color="#277e8e" stop-opacity="0.75"/><stop offset="0.4671" stop-color="#25848e" stop-opacity="0.75"/><stop offset="0.5123" stop-color="#228b8d" stop-opacity="0.75"/><stop offset="0.5593" stop-color="#20928c" stop-opacity="0.75"/><stop offset="0.6082" stop-color="#1f988b" stop-opacity="0.75"/><stop offset="0.6589" stop-color="#1f9f88" stop-opacity="0.75"/><stop offset="0.7113" stop-color="#21a585" stop-opacity="0.75"/><stop offset="0.7656" stop-color="#25ac82" stop-opacity="0.75"/><stop offset="0.8216" stop-color="#2db27d" stop-opacity="0.75"/><stop offset="0.8793" stop-color="#37b878" stop-opacity="0.75"/><stop offset="0.9388" stop-color="#42be71" stop-opacity="0.75"/><stop offset="1.0000" stop-color="#4ec36b" stop-opacity="0.75"/></linearGradient><linearGradient id="g20" gradientUnits="userSpaceOnUse" x1="421.38" y1="0" x2="593.62" y2="0"><stop offset="0.0000" stop-color="#404588" stop-opacity="0.92"/><stop offset="0.0023" stop-color="#404588" stop-opacity="0.92"/><stop offset="0.0081" stop-color="#404688" stop-opacity="0.92"/><stop offset="0.0168" stop-color="#404688" stop-opacity="0.92"/><stop offset="0.0283" stop-color="#404688" stop-opacity="0.92"/><stop offset="0.0423" stop-color="#3f4788" stop-opacity="0.92"/><stop offset="0.0587" stop-color="#3f4889" stop-opacity="0.92"/><stop offset="0.0774" stop-color="#3e4a89" stop-opacity="0.92"/><stop offset="0.0985" stop-color="#3e4c8a" stop-opacity="0.92"/><stop offset="0.1217" stop-color="#3c4f8a" stop-opacity="0.92"/><stop offset="0.1471" stop-color="#3b518b" stop-opacity="0.92"/><stop offset="0.1747" stop-color="#39558c" stop-opacity="0.91"/><stop offset="0.2043" stop-color="#38598c" stop-opacity="0.86"/><stop offset="0.2359" stop-color="#355e8d" stop-opacity="0.79"/><stop offset="0.2696" stop-color="#33638d" stop-opacity="0.75"/><stop offset="0.3052" stop-color="#31688e" stop-opacity="0.75"/><stop offset="0.3428" stop-color="#2e6d8e" stop-opacity="0.75"/><stop offset="0.3824" stop-color="#2c728e" stop-opacity="0.75"/><stop offset="0.4238" stop-color="#29798e" stop-opacity="0.75"/><stop offset="0.4671" stop-color="#277f8e" stop-opacity="0.75"/><stop offset="0.5123" stop-color="#25858e" stop-opacity="0.75"/><stop offset="0.5593" stop-color="#228b8d" stop-opacity="0.75"/><stop offset="0.6082" stop-color="#20928c" stop-opacity="0.75"/><stop offset="0.6589" stop-color="#1f988b" stop-opacity="0.75"/><stop offset="0.7113" stop-color="#1f9f88" stop-opacity="0.75"/><stop offset="0.7656" stop-color="#20a486" stop-opacity="0.75"/><stop offset="0.8216" stop-color="#25ab82" stop-opacity="0.75"/><stop offset="0.8793" stop-color="#2cb17e" stop-opacity="0.75"/><stop offset="0.9388" stop-color="#34b679" stop-opacity="0.75"/><stop offset="1.0000" stop-color="#3fbc73" stop-opacity="0.75"/></linearGradient><linearGradient id="g21" gradientUnits="userSpaceOnUse" x1="421.38" y1="0" x2="593.62" y2="0"><stop offset="0.0000" stop-color="#404588" stop-opacity="0.92"/><stop offset="0.0023" stop-color="#404588" stop-opacity="0.92"/><stop offset="0.0081" stop-color="#404688" stop-opacity="0.92"/><stop offset="0.0168" stop-color="#404688" stop-opacity="0.92"/><stop offset="0.0283" stop-color="#404688" stop-opacity="0.92"/><stop offset="0.0423" stop-color="#3f4788" stop-opacity="0.92"/><stop offset="0.0587" stop-color="#3f4889" stop-opacity="0.92"/><stop offset="0.0774" stop-color="#3e4989" stop-opacity="0.92"/><stop offset="0.0985" stop-color="#3e4a89" stop-opacity="0.92"/><stop offset="0.1217" stop-color="#3d4d8a" stop-opacity="0.92"/><stop offset="0.1471" stop-color="#3c508b" stop-opacity="0.92"/><stop offset="0.1747" stop-color="#3a538b" stop-opacity="0.92"/><stop offset="0.2043" stop-color="#39568c" stop-opacity="0.89"/><stop offset="0.2359" stop-color="#375b8d" stop-opacity="0.82"/><stop offset="0.2696" stop-color="#355f8d" stop-opacity="0.75"/><stop offset="0.3052" stop-color="#32648e" stop-opacity="0.75"/><stop offset="0.3428" stop-color="#30698e" stop-opacity="0.75"/><stop offset="0.3824" stop-color="#2e6f8e" stop-opacity="0.75"/><stop offset="0.4238" stop-color="#2b748e" stop-opacity="0.75"/><stop offset="0.4671" stop-color="#297a8e" stop-opacity="0.75"/><stop offset="0.5123" stop-color="#27808e" stop-opacity="0.75"/><stop offset="0.5593" stop-color="#25858e" stop-opacity="0.75"/><stop offset="0.6082" stop-color="#228c8d" stop-opacity="0.75"/><stop offset="0.6589" stop-color="#20928c" stop-opacity="0.75"/><stop offset="0.7113" stop-color="#1f988b" stop-opacity="0.75"/><stop offset="0.7656" stop-color="#1f9e89" stop-opacity="0.75"/><stop offset="0.8216" stop-color="#20a486" stop-opacity="0.75"/><stop offset="0.8793" stop-color="#24aa83" stop-opacity="0.75"/><stop offset="0.9388" stop-color="#29af7f" stop-opacity="0.75"/><stop offset="1.0000" stop-color="#32b67a" stop-opacity="0.75"/></linearGradient><linearGradient id="g22" gradientUnits="userSpaceOnUse" x1="421.38" y1="0" x2="593.62" y2="0"><stop offset="0.0000" stop-color="#404588" stop-opacity="0.92"/><stop offset="0.0023" stop-color="#404588" stop-opacity="0.92"/><stop offset="0.0081" stop-color="#404588" stop-opacity="0.92"/><stop offset="0.0168" stop-color="#404688" stop-opacity="0.92"/><stop offset="0.0283" stop-color="#404688" stop-opacity="0.92"/><stop offset="0.0423" stop-color="#3f4788" stop-opacity="0.92"/><stop offset="0.0587" stop-color="#3f4788" stop-opacity="0.92"/><stop offset="0.0774" stop-color="#3f4889" stop-opacity="0.92"/><stop offset="0.0985" stop-color="#3e4a89" stop-opacity="0.92"/><stop offset="0.1217" stop-color="#3d4d8a" stop-opacity="0.92"/><stop offset="0.1471" stop-color="#3c4f8a" stop-opacity="0.92"/><stop offset="0.1747" stop-color="#3b518b" stop-opacity="0.92"/><stop offset="0.2043" stop-color="#3a548c" stop-opacity="0.91"/><stop offset="0.2359" stop-color="#38598c" stop-opacity="0.85"/><stop offset="0.2696" stop-color="#365d8d" stop-opacity="0.79"/><stop offset="0.3052" stop-color="#34618d" stop-opacity="0.75"/><stop offset="0.3428" stop-color="#31668e" stop-opacity="0.75"/><stop offset="0.3824" stop-color="#2f6b8e" stop-opacity="0.75"/><stop offset="0.4238" stop-color="#2d708e" stop-opacity="0.75"/><stop offset="0.4671" stop-color="#2b758e" stop-opacity="0.75"/><stop offset="0.5123" stop-color="#297b8e" stop-opacity="0.75"/><stop offset="0.5593" stop-color="#26818e" stop-opacity="0.75"/><stop offset="0.6082" stop-color="#24868e" stop-opacity="0.75"/><stop offset="0.6589" stop-color="#228c8d" stop-opacity="0.75"/><stop offset="0.7113" stop-color="#20928c" stop-opacity="0.75"/><stop offset="0.7656" stop-color="#1f988b" stop-opacity="0.75"/><stop offset="0.8216" stop-color="#1f9e89" stop-opacity="0.75"/><stop offset="0.8793" stop-color="#20a386" stop-opacity="0.75"/><stop offset="0.9388" stop-color="#24aa83" stop-opacity="0.75"/><stop offset="1.0000" stop-color="#29af7f" stop-opacity="0.75"/></linearGradient><clipPath id="c2"><rect x="48.6" y="377.8" width="241.9" height="230.2"/></clipPath><linearGradient id="g23" gradientUnits="userSpaceOnUse" x1="99.38" y1="0" x2="271.62" y2="0"><stop offset="0.0000" stop-color="#404588" stop-opacity="0.92"/><stop offset="0.0023" stop-color="#404588" stop-opacity="0.92"/><stop offset="0.0081" stop-color="#404588" stop-opacity="0.92"/><stop offset="0.0168" stop-color="#404688" stop-opacity="0.92"/><stop offset="0.0283" stop-color="#404688" stop-opacity="0.92"/><stop offset="0.0423" stop-color="#404688" stop-opacity="0.92"/><stop offset="0.0587" stop-color="#3f4788" stop-opacity="0.92"/><stop offset="0.0774" stop-color="#3f4889" stop-opacity="0.92"/><stop offset="0.0985" stop-color="#3e4989" stop-opacity="0.89"/><stop offset="0.1217" stop-color="#3e4c8a" stop-opacity="0.82"/><stop offset="0.1471" stop-color="#3d4d8a" stop-opacity="0.75"/><stop offset="0.1747" stop-color="#3c508b" stop-opacity="0.75"/><stop offset="0.2043" stop-color="#3b528b" stop-opacity="0.75"/><stop offset="0.2359" stop-color="#39558c" stop-opacity="0.75"/><stop offset="0.2696" stop-color="#375a8c" stop-opacity="0.75"/><stop offset="0.3052" stop-color="#355e8d" stop-opacity="0.75"/><stop offset="0.3428" stop-color="#33628d" stop-opacity="0.75"/><stop offset="0.3824" stop-color="#31678e" stop-opacity="0.75"/><stop offset="0.4238" stop-color="#2f6c8e" stop-opacity="0.75"/><stop offset="0.4671" stop-color="#2d718e" stop-opacity="0.75"/><stop offset="0.5123" stop-color="#2b758e" stop-opacity="0.75"/><stop offset="0.5593" stop-color="#297b8e" stop-opacity="0.75"/><stop offset="0.6082" stop-color="#26818e" stop-opacity="0.75"/><stop offset="0.6589" stop-color="#24868e" stop-opacity="0.75"/><stop offset="0.7113" stop-color="#228c8d" stop-opacity="0.75"/><stop offset="0.7656" stop-color="#20928c" stop-opacity="0.75"/><stop offset="0.8216" stop-color="#1f978b" stop-opacity="0.75"/><stop offset="0.8793" stop-color="#1e9d89" stop-opacity="0.75"/><stop offset="0.9388" stop-color="#1fa287" stop-opacity="0.75"/><stop offset="1.0000" stop-color="#22a884" stop-opacity="0.75"/></linearGradient><linearGradient id="g24" gradientUnits="userSpaceOnUse" x1="99.38" y1="0" x2="271.62" y2="0"><stop offset="0.0000" stop-color="#404588" stop-opacity="0.92"/><stop offset="0.0023" stop-color="#404588" stop-opacity="0.92"/><stop offset="0.0081" stop-color="#404588" stop-opacity="0.92"/><stop offset="0.0168" stop-color="#404588" stop-opacity="0.92"/><stop offset="0.0283" stop-color="#404688" stop-opacity="0.92"/><stop offset="0.0423" stop-color="#404688" stop-opacity="0.92"/><stop offset="0.0587" stop-color="#404688" stop-opacity="0.92"/><stop offset="0.0774" stop-color="#3f4788" stop-opacity="0.92"/><stop offset="0.0985" stop-color="#3f4889" stop-opacity="0.92"/><stop offset="0.1217" stop-color="#3e4989" stop-opacity="0.88"/><stop offset="0.1471" stop-color="#3e4a89" stop-opacity="0.82"/><stop offset="0.1747" stop-color="#3d4d8a" stop-opacity="0.75"/><stop offset="0.2043" stop-color="#3c4f8a" stop-opacity="0.75"/><stop offset="0.2359" stop-color="#3b518b" stop-opacity="0.75"/><stop offset="0.2696" stop-color="#3a548c" stop-opacity="0.75"/><stop offset="0.3052" stop-color="#38588c" stop-opacity="0.75"/><stop offset="0.3428" stop-color="#375b8d" stop-opacity="0.75"/><stop offset="0.3824" stop-color="#355f8d" stop-opacity="0.75"/><stop offset="0.4238" stop-color="#33638d" stop-opacity="0.75"/><stop offset="0.4671" stop-color="#31678e" stop-opacity="0.75"/><stop offset="0.5123" stop-color="#2f6b8e" stop-opacity="0.75"/><stop offset="0.5593" stop-color="#2d708e" stop-opacity="0.75"/><stop offset="0.6082" stop-color="#2b748e" stop-opacity="0.75"/><stop offset="0.6589" stop-color="#29798e" stop-opacity="0.75"/><stop offset="0.7113" stop-color="#277e8e" stop-opacity="0.75"/><stop offset="0.7656" stop-color="#25838e" stop-opacity="0.75"/><stop offset="0.8216" stop-color="#23888e" stop-opacity="0.75"/><stop offset="0.8793" stop-color="#228d8d" stop-opacity="0.75"/><stop offset="0.9388" stop-color="#20928c" stop-opacity="0.75"/><stop offset="1.0000" stop-color="#1f978b" stop-opacity="0.75"/></linearGradient><linearGradient id="g25" gradientUnits="userSpaceOnUse" x1="99.38" y1="0" x2="271.62" y2="0"><stop offset="0.0000" stop-color="#404588" stop-opacity="0.92"/><stop offset="0.0023" stop-color="#404588" stop-opacity="0.92"/><stop offset="0.0081" stop-color="#404588" stop-opacity="0.92"/><stop offset="0.0168" stop-color="#404588" stop-opacity="0.92"/><stop offset="0.0283" stop-color="#404588" stop-opacity="0.92"/><stop offset="0.0423" stop-color="#404688" stop-opacity="0.92"/><stop offset="0.0587" stop-color="#404688" stop-opacity="0.92"/><stop offset="0.0774" stop-color="#404688" stop-opacity="0.92"/><stop offset="0.0985" stop-color="#3f4788" stop-opacity="0.92"/><stop offset="0.1217" stop-color="#3f4889" stop-opacity="0.92"/><stop offset="0.1471" stop-color="#3e4989" stop-opacity="0.87"/><stop offset="0.1747" stop-color="#3e4a89" stop-opacity="0.81"/><stop offset="0.2043" stop-color="#3d4d8a" stop-opacity="0.75"/><stop offset="0.2359" stop-color="#3d4e8a" stop-opacity="0.75"/><stop offset="0.2696" stop-color="#3c508b" stop-opacity="0.75"/><stop offset="0.3052" stop-color="#3a538b" stop-opacity="0.75"/><stop offset="0.3428" stop-color="#39558c" stop-opacity="0.75"/><stop offset="0.3824" stop-color="#38598c" stop-opacity="0.75"/><stop offset="0.4238" stop-color="#365c8d" stop-opacity="0.75"/><stop offset="0.4671" stop-color="#34608d" stop-opacity="0.75"/><stop offset="0.5123" stop-color="#32648e" stop-opacity="0.75"/><stop offset="0.5593" stop-color="#31688e" stop-opacity="0.75"/><stop offset="0.6082" stop-color="#2f6c8e" stop-opacity="0.75"/><stop offset="0.6589" stop-color="#2d708e" stop-opacity="0.75"/><stop offset="0.7113" stop-color="#2b748e" stop-opacity="0.75"/><stop offset="0.7656" stop-color="#2a788e" stop-opacity="0.75"/><stop offset="0.8216" stop-color="#287d8e" stop-opacity="0.75"/><stop offset="0.8793" stop-color="#26828e" stop-opacity="0.75"/><stop offset="0.9388" stop-color="#24868e" stop-opacity="0.75"/><stop offset="1.0000" stop-color="#228b8d" stop-opacity="0.75"/></linearGradient><linearGradient id="g26" gradientUnits="userSpaceOnUse" x1="99.38" y1="0" x2="271.62" y2="0"><stop offset="0.0000" stop-color="#404588" stop-opacity="0.92"/><stop offset="0.0023" stop-color="#404588" stop-opacity="0.92"/><stop offset="0.0081" stop-color="#404588" stop-opacity="0.92"/><stop offset="0.0168" stop-color="#404588" stop-opacity="0.92"/><stop offset="0.0283" stop-color="#404588" stop-opacity="0.92"/><stop offset="0.0423" stop-color="#404588" stop-opacity="0.92"/><stop offset="0.0587" stop-color="#404688" stop-opacity="0.92"/><stop offset="0.0774" stop-color="#404688" stop-opacity="0.92"/><stop offset="0.0985" stop-color="#3f4788" stop-opacity="0.92"/><stop offset="0.1217" stop-color="#3f4788" stop-opacity="0.92"/><stop offset="0.1471" stop-color="#3f4889" stop-opacity="0.91"/><stop offset="0.1747" stop-color="#3e4989" stop-opacity="0.86"/><stop offset="0.2043" stop-color="#3e4a89" stop-opacity="0.80"/><stop offset="0.2359" stop-color="#3e4c8a" stop-opacity="0.75"/><stop offset="0.2696" stop-color="#3d4e8a" stop-opacity="0.75"/><stop offset="0.3052" stop-color="#3c508b" stop-opacity="0.75"/><stop offset="0.3428" stop-color="#3b528b" stop-opacity="0.75"/><stop offset="0.3824" stop-color="#3a548c" stop-opacity="0.75"/><stop offset="0.4238" stop-color="#38588c" stop-opacity="0.75"/><stop offset="0.4671" stop-color="#375b8d" stop-opacity="0.75"/><stop offset="0.5123" stop-color="#355e8d" stop-opacity="0.75"/><stop offset="0.5593" stop-color="#34618d" stop-opacity="0.75"/><stop offset="0.6082" stop-color="#32658e" stop-opacity="0.75"/><stop offset="0.6589" stop-color="#30698e" stop-opacity="0.75"/><stop offset="0.7113" stop-color="#2e6d8e" stop-opacity="0.75"/><stop offset="0.7656" stop-color="#2d718e" stop-opacity="0.75"/><stop offset="0.8216" stop-color="#2b748e" stop-opacity="0.75"/><stop offset="0.8793" stop-color="#2a788e" stop-opacity="0.75"/><stop offset="0.9388" stop-color="#287d8e" stop-opacity="0.75"/><stop offset="1.0000" stop-color="#26818e" stop-opacity="0.75"/></linearGradient><linearGradient id="g27" gradientUnits="userSpaceOnUse" x1="99.38" y1="0" x2="271.62" y2="0"><stop offset="0.0000" stop-color="#404588" stop-opacity="0.92"/><stop offset="0.0023" stop-color="#404588" stop-opacity="0.92"/><stop offset="0.0081" stop-color="#404588" stop-opacity="0.92"/><stop offset="0.0168" stop-color="#404588" stop-opacity="0.92"/><stop offset="0.0283" stop-color="#404588" stop-opacity="0.92"/><stop offset="0.0423" stop-color="#404588" stop-opacity="0.92"/><stop offset="0.0587" stop-color="#404688" stop-opacity="0.92"/><stop offset="0.0774" stop-color="#404688" stop-opacity="0.92"/><stop offset="0.0985" stop-color="#404688" stop-opacity="0.92"/><stop offset="0.1217" stop-color="#3f4788" stop-opacity="0.92"/><stop offset="0.1471" stop-color="#3f4788" stop-opacity="0.92"/><stop offset="0.1747" stop-color="#3f4889" stop-opacity="0.90"/><stop offset="0.2043" stop-color="#3e4989" stop-opacity="0.85"/><stop offset="0.2359" stop-color="#3e4a89" stop-opacity="0.79"/><stop offset="0.2696" stop-color="#3e4c8a" stop-opacity="0.75"/><stop offset="0.3052" stop-color="#3d4e8a" stop-opacity="0.75"/><stop offset="0.3428" stop-color="#3c508b" stop-opacity="0.75"/><stop offset="0.3824" stop-color="#3b528b" stop-opacity="0.75"/><stop offset="0.4238" stop-color="#3a548c" stop-opacity="0.75"/><stop offset="0.4671" stop-color="#39568c" stop-opacity="0.75"/><stop offset="0.5123" stop-color="#375a8c" stop-opacity="0.75"/><stop offset="0.5593" stop-color="#365d8d" stop-opacity="0.75"/><stop offset="0.6082" stop-color="#34608d" stop-opacity="0.75"/><stop offset="0.6589" stop-color="#33638d" stop-opacity="0.75"/><stop offset="0.7113" stop-color="#31668e" stop-opacity="0.75"/><stop offset="0.7656" stop-color="#306a8e" stop-opacity="0.75"/><stop offset="0.8216" stop-color="#2e6e8e" stop-opacity="0.75"/><stop offset="0.8793" stop-color="#2c718e" stop-opacity="0.75"/><stop offset="0.9388" stop-color="#2b748e" stop-opacity="0.75"/><stop offset="1.0000" stop-color="#29798e" stop-opacity="0.75"/></linearGradient><linearGradient id="g28" gradientUnits="userSpaceOnUse" x1="99.38" y1="0" x2="271.62" y2="0"><stop offset="0.0000" stop-color="#404588" stop-opacity="0.92"/><stop offset="0.0023" stop-color="#404588" stop-opacity="0.92"/><stop offset="0.0081" stop-color="#404588" stop-opacity="0.92"/><stop offset="0.0168" stop-color="#404588" stop-opacity="0.92"/><stop offset="0.0283" stop-color="#404588" stop-opacity="0.92"/><stop offset="0.0423" stop-color="#404588" stop-opacity="0.92"/><stop offset="0.0587" stop-color="#404588" stop-opacity="0.92"/><stop offset="0.0774" stop-color="#404688" stop-opacity="0.92"/><stop offset="0.0985" stop-color="#404688" stop-opacity="0.92"/><stop offset="0.1217" stop-color="#404688" stop-opacity="0.92"/><stop offset="0.1471" stop-color="#3f4788" stop-opacity="0.92"/><stop offset="0.1747" stop-color="#3f4788" stop-opacity="0.92"/><stop offset="0.2043" stop-color="#3f4889" stop-opacity="0.88"/><stop offset="0.2359" stop-color="#3e4989" stop-opacity="0.83"/><stop offset="0.2696" stop-color="#3e4a89" stop-opacity="0.77"/><stop offset="0.3052" stop-color="#3e4c8a" stop-opacity="0.75"/><stop offset="0.3428" stop-color="#3d4e8a" stop-opacity="0.75"/><stop offset="0.3824" stop-color="#3c508b" stop-opacity="0.75"/><stop offset="0.4238" stop-color="#3b518b" stop-opacity="0.75"/><stop offset="0.4671" stop-color="#3a538b" stop-opacity="0.75"/><stop offset="0.5123" stop-color="#39568c" stop-opacity="0.75"/><stop offset="0.5593" stop-color="#38598c" stop-opacity="0.75"/><stop offset="0.6082" stop-color="#365c8d" stop-opacity="0.75"/><stop offset="0.6589" stop-color="#355e8d" stop-opacity="0.75"/><stop offset="0.7113" stop-color="#34618d" stop-opacity="0.75"/><stop offset="0.7656" stop-color="#32658e" stop-opacity="0.75"/><stop offset="0.8216" stop-color="#31688e" stop-opacity="0.75"/><stop offset="0.8793" stop-color="#2f6b8e" stop-opacity="0.75"/><stop offset="0.9388" stop-color="#2e6f8e" stop-opacity="0.75"/><stop offset="1.0000" stop-color="#2c728e" stop-opacity="0.75"/></linearGradient><linearGradient id="g29" gradientUnits="userSpaceOnUse" x1="99.38" y1="0" x2="271.62" y2="0"><stop offset="0.0000" stop-color="#404588" stop-opacity="0.92"/><stop offset="0.0023" stop-color="#404588" stop-opacity="0.92"/><stop offset="0.0081" stop-color="#404588" stop-opacity="0.92"/><stop offset="0.0168" stop-color="#404588" stop-opacity="0.92"/><stop offset="0.0283" stop-color="#404588" stop-opacity="0.92"/><stop offset="0.0423" stop-color="#404588" stop-opacity="0.92"/><stop offset="0.0587" stop-color="#404588" stop-opacity="0.92"/><stop offset="0.0774" stop-color="#404688" stop-opacity="0.92"/><stop offset="0.0985" stop-color="#404688" stop-opacity="0.92"/><stop offset="0.1217" stop-color="#404688" stop-opacity="0.92"/><stop offset="0.1471" stop-color="#3f4788" stop-opacity="0.92"/><stop offset="0.1747" stop-color="#3f4788" stop-opacity="0.92"/><stop offset="0.2043" stop-color="#3f4889" stop-opacity="0.91"/><stop offset="0.2359" stop-color="#3f4889" stop-opacity="0.86"/><stop offset="0.2696" stop-color="#3e4989" stop-opacity="0.81"/><stop offset="0.3052" stop-color="#3e4a89" stop-opacity="0.76"/><stop offset="0.3428" stop-color="#3d4d8a" stop-opacity="0.75"/><stop offset="0.3824" stop-color="#3d4e8a" stop-opacity="0.75"/><stop offset="0.4238" stop-color="#3c508b" stop-opacity="0.75"/><stop offset="0.4671" stop-color="#3b518b" stop-opacity="0.75"/><stop offset="0.5123" stop-color="#3a538b" stop-opacity="0.75"/><stop offset="0.5593" stop-color="#39558c" stop-opacity="0.75"/><stop offset="0.6082" stop-color="#38598c" stop-opacity="0.75"/><stop offset="0.6589" stop-color="#375b8d" stop-opacity="0.75"/><stop offset="0.7113" stop-color="#355e8d" stop-opacity="0.75"/><stop offset="0.7656" stop-color="#34608d" stop-opacity="0.75"/><stop offset="0.8216" stop-color="#33638d" stop-opacity="0.75"/><stop offset="0.8793" stop-color="#31668e" stop-opacity="0.75"/><stop offset="0.9388" stop-color="#306a8e" stop-opacity="0.75"/><stop offset="1.0000" stop-color="#2e6d8e" stop-opacity="0.75"/></linearGradient><linearGradient id="g30" gradientUnits="userSpaceOnUse" x1="99.38" y1="0" x2="271.62" y2="0"><stop offset="0.0000" stop-color="#404588" stop-opacity="0.92"/><stop offset="0.0023" stop-color="#404588" stop-opacity="0.92"/><stop offset="0.0081" stop-color="#404588" stop-opacity="0.92"/><stop offset="0.0168" stop-color="#404588" stop-opacity="0.92"/><stop offset="0.0283" stop-color="#404588" stop-opacity="0.92"/><stop offset="0.0423" stop-color="#404588" stop-opacity="0.92"/><stop offset="0.0587" stop-color="#404588" stop-opacity="0.92"/><stop offset="0.0774" stop-color="#404588" stop-opacity="0.92"/><stop offset="0.0985" stop-color="#404688" stop-opacity="0.92"/><stop offset="0.1217" stop-color="#404688" stop-opacity="0.92"/><stop offset="0.1471" stop-color="#404688" stop-opacity="0.92"/><stop offset="0.1747" stop-color="#3f4788" stop-opacity="0.92"/><stop offset="0.2043" stop-color="#3f4788" stop-opacity="0.92"/><stop offset="0.2359" stop-color="#3f4889" stop-opacity="0.89"/><stop offset="0.2696" stop-color="#3e4989" stop-opacity="0.85"/><stop offset="0.3052" stop-color="#3e4a89" stop-opacity="0.80"/><stop offset="0.3428" stop-color="#3e4c8a" stop-opacity="0.75"/><stop offset="0.3824" stop-color="#3d4d8a" stop-opacity="0.75"/><stop offset="0.4238" stop-color="#3d4e8a" stop-opacity="0.75"/><stop offset="0.4671" stop-color="#3c508b" stop-opacity="0.75"/><stop offset="0.5123" stop-color="#3b518b" stop-opacity="0.75"/><stop offset="0.5593" stop-color="#3a538b" stop-opacity="0.75"/><stop offset="0.6082" stop-color="#39558c" stop-opacity="0.75"/><stop offset="0.6589" stop-color="#38588c" stop-opacity="0.75"/><stop offset="0.7113" stop-color="#375a8c" stop-opacity="0.75"/><stop offset="0.7656" stop-color="#365d8d" stop-opacity="0.75"/><stop offset="0.8216" stop-color="#34608d" stop-opacity="0.75"/><stop offset="0.8793" stop-color="#33628d" stop-opacity="0.75"/><stop offset="0.9388" stop-color="#32658e" stop-opacity="0.75"/><stop offset="1.0000" stop-color="#31688e" stop-opacity="0.75"/></linearGradient><linearGradient id="g31" gradientUnits="userSpaceOnUse" x1="99.38" y1="0" x2="271.62" y2="0"><stop offset="0.0000" stop-color="#404588" stop-opacity="0.92"/><stop offset="0.0023" stop-color="#404588" stop-opacity="0.92"/><stop offset="0.0081" stop-color="#404588" stop-opacity="0.92"/><stop offset="0.0168" stop-color="#404588" stop-opacity="0.92"/><stop offset="0.0283" stop-color="#404588" stop-opacity="0.92"/><stop offset="0.0423" stop-color="#404588" stop-opacity="0.92"/><stop offset="0.0587" stop-color="#404588" stop-opacity="0.92"/><stop offset="0.0774" stop-color="#404588" stop-opacity="0.92"/><stop offset="0.0985" stop-color="#404688" stop-opacity="0.92"/><stop offset="0.1217" stop-color="#404688" stop-opacity="0.92"/><stop offset="0.1471" stop-color="#404688" stop-opacity="0.92"/><stop offset="0.1747" stop-color="#404688" stop-opacity="0.92"/><stop offset="0.2043" stop-color="#3f4788" stop-opacity="0.92"/><stop offset="0.2359" stop-color="#3f4788" stop-opacity="0.91"/><stop offset="0.2696" stop-color="#3f4889" stop-opacity="0.87"/><stop offset="0.3052" stop-color="#3e4989" stop-opacity="0.83"/><stop offset="0.3428" stop-color="#3e4a89" stop-opacity="0.78"/><stop offset="0.3824" stop-color="#3e4c8a" stop-opacity="0.75"/><stop offset="0.4238" stop-color="#3d4d8a" stop-opacity="0.75"/><stop offset="0.4671" stop-color="#3d4e8a" stop-opacity="0.75"/><stop offset="0.5123" stop-color="#3c508b" stop-opacity="0.75"/><stop offset="0.5593" stop-color="#3b518b" stop-opacity="0.75"/><stop offset="0.6082" stop-color="#3a538b" stop-opacity="0.75"/><stop offset="0.6589" stop-color="#39558c" stop-opacity="0.75"/><stop offset="0.7113" stop-color="#38588c" stop-opacity="0.75"/><stop offset="0.7656" stop-color="#375a8c" stop-opacity="0.75"/><stop offset="0.8216" stop-color="#365c8d" stop-opacity="0.75"/><stop offset="0.8793" stop-color="#355f8d" stop-opacity="0.75"/><stop offset="0.9388" stop-color="#33628d" stop-opacity="0.75"/><stop offset="1.0000" stop-color="#32648e" stop-opacity="0.75"/></linearGradient><linearGradient id="g32" gradientUnits="userSpaceOnUse" x1="99.38" y1="0" x2="271.62" y2="0"><stop offset="0.0000" stop-color="#404588" stop-opacity="0.92"/><stop offset="0.0023" stop-color="#404588" stop-opacity="0.92"/><stop offset="0.0081" stop-color="#404588" stop-opacity="0.92"/><stop offset="0.0168" stop-color="#404588" stop-opacity="0.92"/><stop offset="0.0283" stop-color="#404588" stop-opacity="0.92"/><stop offset="0.0423" stop-color="#404588" stop-opacity="0.92"/><stop offset="0.0587" stop-color="#404588" stop-opacity="0.92"/><stop offset="0.0774" stop-color="#404588" stop-opacity="0.92"/><stop offset="0.0985" stop-color="#404588" stop-opacity="0.92"/><stop offset="0.1217" stop-color="#404688" stop-opacity="0.92"/><stop offset="0.1471" stop-color="#404688" stop-opacity="0.92"/><stop offset="0.1747" stop-color="#404688" stop-opacity="0.92"/><stop offset="0.2043" stop-color="#3f4788" stop-opacity="0.92"/><stop offset="0.2359" stop-color="#3f4788" stop-opacity="0.92"/><stop offset="0.2696" stop-color="#3f4889" stop-opacity="0.90"/><stop offset="0.3052" stop-color="#3f4889" stop-opacity="0.86"/><stop offset="0.3428" stop-color="#3e4989" stop-opacity="0.81"/><stop offset="0.3824" stop-color="#3e4a89" stop-opacity="0.76"/><stop offset="0.4238" stop-color="#3e4c8a" stop-opacity="0.75"/><stop offset="0.4671" stop-color="#3d4d8a" stop-opacity="0.75"/><stop offset="0.5123" stop-color="#3d4e8a" stop-opacity="0.75"/><stop offset="0.5593" stop-color="#3c508b" stop-opacity="0.75"/><stop offset="0.6082" stop-color="#3b518b" stop-opacity="0.75"/><stop offset="0.6589" stop-color="#3a538b" stop-opacity="0.75"/><stop offset="0.7113" stop-color="#39558c" stop-opacity="0.75"/><stop offset="0.7656" stop-color="#38588c" stop-opacity="0.75"/><stop offset="0.8216" stop-color="#375a8c" stop-opacity="0.75"/><stop offset="0.8793" stop-color="#365c8d" stop-opacity="0.75"/><stop offset="0.9388" stop-color="#355f8d" stop-opacity="0.75"/><stop offset="1.0000" stop-color="#34618d" stop-opacity="0.75"/></linearGradient><linearGradient id="g33" gradientUnits="userSpaceOnUse" x1="99.38" y1="0" x2="271.62" y2="0"><stop offset="0.0000" stop-color="#404588" stop-opacity="0.92"/><stop offset="0.0023" stop-color="#404588" stop-opacity="0.92"/><stop offset="0.0081" stop-color="#404588" stop-opacity="0.92"/><stop offset="0.0168" stop-color="#404588" stop-opacity="0.92"/><stop offset="0.0283" stop-color="#404588" stop-opacity="0.92"/><stop offset="0.0423" stop-color="#404588" stop-opacity="0.92"/><stop offset="0.0587" stop-color="#404588" stop-opacity="0.92"/><stop offset="0.0774" stop-color="#404588" stop-opacity="0.92"/><stop offset="0.0985" stop-color="#404588" stop-opacity="0.92"/><stop offset="0.1217" stop-color="#404688" stop-opacity="0.92"/><stop offset="0.1471" stop-color="#404688" stop-opacity="0.92"/><stop offset="0.1747" stop-color="#404688" stop-opacity="0.92"/><stop offset="0.2043" stop-color="#404688" stop-opacity="0.92"/><stop offset="0.2359" stop-color="#3f4788" stop-opacity="0.92"/><stop offset="0.2696" stop-color="#3f4788" stop-opacity="0.92"/><stop offset="0.3052" stop-color="#3f4889" stop-opacity="0.88"/><stop offset="0.3428" stop-color="#3e4989" stop-opacity="0.84"/><stop offset="0.3824" stop-color="#3e4989" stop-opacity="0.79"/><stop offset="0.4238" stop-color="#3e4a89" stop-opacity="0.75"/><stop offset="0.4671" stop-color="#3e4c8a" stop-opacity="0.75"/><stop offset="0.5123" stop-color="#3d4d8a" stop-opacity="0.75"/><stop offset="0.5593" stop-color="#3c4f8a" stop-opacity="0.75"/><stop offset="0.6082" stop-color="#3c508b" stop-opacity="0.75"/><stop offset="0.6589" stop-color="#3b518b" stop-opacity="0.75"/><stop offset="0.7113" stop-color="#3a538b" stop-opacity="0.75"/><stop offset="0.7656" stop-color="#39558c" stop-opacity="0.75"/><stop offset="0.8216" stop-color="#38588c" stop-opacity="0.75"/><stop offset="0.8793" stop-color="#375a8c" stop-opacity="0.75"/><stop offset="0.9388" stop-color="#365c8d" stop-opacity="0.75"/><stop offset="1.0000" stop-color="#355e8d" stop-opacity="0.75"/></linearGradient><clipPath id="c3"><rect x="371.5" y="377.8" width="241.9" height="230.2"/></clipPath><linearGradient id="g34" gradientUnits="userSpaceOnUse" x1="422.28" y1="0" x2="594.52" y2="0"><stop offset="0.0000" stop-color="#404688" stop-opacity="0.92"/><stop offset="0.0023" stop-color="#404688" stop-opacity="0.92"/><stop offset="0.0081" stop-color="#3f4788" stop-opacity="0.92"/><stop offset="0.0168" stop-color="#3f4889" stop-opacity="0.92"/><stop offset="0.0283" stop-color="#3e4989" stop-opacity="0.92"/><stop offset="0.0423" stop-color="#3e4c8a" stop-opacity="0.92"/><stop offset="0.0587" stop-color="#3d4e8a" stop-opacity="0.92"/><stop offset="0.0774" stop-color="#3b518b" stop-opacity="0.92"/><stop offset="0.0985" stop-color="#39558c" stop-opacity="0.88"/><stop offset="0.1217" stop-color="#375b8d" stop-opacity="0.80"/><stop offset="0.1471" stop-color="#34618d" stop-opacity="0.75"/><stop offset="0.1747" stop-color="#31678e" stop-opacity="0.75"/><stop offset="0.2043" stop-color="#2e6e8e" stop-opacity="0.75"/><stop offset="0.2359" stop-color="#2b758e" stop-opacity="0.75"/><stop offset="0.2696" stop-color="#287d8e" stop-opacity="0.75"/><stop offset="0.3052" stop-color="#25848e" stop-opacity="0.75"/><stop offset="0.3428" stop-color="#228d8d" stop-opacity="0.75"/><stop offset="0.3824" stop-color="#1f958b" stop-opacity="0.75"/><stop offset="0.4238" stop-color="#1e9d89" stop-opacity="0.75"/><stop offset="0.4671" stop-color="#21a585" stop-opacity="0.75"/><stop offset="0.5123" stop-color="#26ad81" stop-opacity="0.75"/><stop offset="0.5593" stop-color="#31b57b" stop-opacity="0.75"/><stop offset="0.6082" stop-color="#3dbc74" stop-opacity="0.75"/><stop offset="0.6589" stop-color="#4cc26c" stop-opacity="0.75"/><stop offset="0.7113" stop-color="#5cc863" stop-opacity="0.75"/><stop offset="0.7656" stop-color="#6ece58" stop-opacity="0.75"/><stop offset="0.8216" stop-color="#81d34d" stop-opacity="0.75"/><stop offset="0.8793" stop-color="#93d741" stop-opacity="0.75"/><stop offset="0.9388" stop-color="#a5db36" stop-opacity="0.75"/><stop offset="1.0000" stop-color="#b8de29" stop-opacity="0.75"/></linearGradient><linearGradient id="g35" gradientUnits="userSpaceOnUse" x1="422.28" y1="0" x2="594.52" y2="0"><stop offset="0.0000" stop-color="#404688" stop-opacity="0.92"/><stop offset="0.0023" stop-color="#404688" stop-opacity="0.92"/><stop offset="0.0081" stop-color="#404688" stop-opacity="0.92"/><stop offset="0.0168" stop-color="#3f4788" stop-opacity="0.92"/><stop offset="0.0283" stop-color="#3f4889" stop-opacity="0.92"/><stop offset="0.0423" stop-color="#3e4989" stop-opacity="0.92"/><stop offset="0.0587" stop-color="#3e4c8a" stop-opacity="0.92"/><stop offset="0.0774" stop-color="#3d4e8a" stop-opacity="0.92"/><stop offset="0.0985" stop-color="#3b518b" stop-opacity="0.92"/><stop offset="0.1217" stop-color="#39558c" stop-opacity="0.87"/><stop offset="0.1471" stop-color="#375a8c" stop-opacity="0.79"/><stop offset="0.1747" stop-color="#355f8d" stop-opacity="0.75"/><stop offset="0.2043" stop-color="#32658e" stop-opacity="0.75"/><stop offset="0.2359" stop-color="#2f6b8e" stop-opacity="0.75"/><stop offset="0.2696" stop-color="#2c718e" stop-opacity="0.75"/><stop offset="0.3052" stop-color="#2a788e" stop-opacity="0.75"/><stop offset="0.3428" stop-color="#277f8e" stop-opacity="0.75"/><stop offset="0.3824" stop-color="#24868e" stop-opacity="0.75"/><stop offset="0.4238" stop-color="#218e8d" stop-opacity="0.75"/><stop offset="0.4671" stop-color="#1f958b" stop-opacity="0.75"/><stop offset="0.5123" stop-color="#1e9d89" stop-opacity="0.75"/><stop offset="0.5593" stop-color="#20a386" stop-opacity="0.75"/><stop offset="0.6082" stop-color="#25ab82" stop-opacity="0.75"/><stop offset="0.6589" stop-color="#2db27d" stop-opacity="0.75"/><stop offset="0.7113" stop-color="#38b977" stop-opacity="0.75"/><stop offset="0.7656" stop-color="#44bf70" stop-opacity="0.75"/><stop offset="0.8216" stop-color="#52c569" stop-opacity="0.75"/><stop offset="0.8793" stop-color="#60ca60" stop-opacity="0.75"/><stop offset="0.9388" stop-color="#70cf57" stop-opacity="0.75"/><stop offset="1.0000" stop-color="#81d34d" stop-opacity="0.75"/></linearGradient><linearGradient id="g36" gradientUnits="userSpaceOnUse" x1="422.28" y1="0" x2="594.52" y2="0"><stop offset="0.0000" stop-color="#404688" stop-opacity="0.92"/><stop offset="0.0023" stop-color="#404688" stop-opacity="0.92"/><stop offset="0.0081" stop-color="#404688" stop-opacity="0.92"/><stop offset="0.0168" stop-color="#404688" stop-opacity="0.92"/><stop offset="0.0283" stop-color="#3f4788" stop-opacity="0.92"/><stop offset="0.0423" stop-color="#3f4889" stop-opacity="0.92"/><stop offset="0.0587" stop-color="#3e4989" stop-opacity="0.92"/><stop offset="0.0774" stop-color="#3e4c8a" stop-opacity="0.92"/><stop offset="0.0985" stop-color="#3d4e8a" stop-opacity="0.92"/><stop offset="0.1217" stop-color="#3b518b" stop-opacity="0.92"/><stop offset="0.1471" stop-color="#3a548c" stop-opacity="0.86"/><stop offset="0.1747" stop-color="#38598c" stop-opacity="0.78"/><stop offset="0.2043" stop-color="#355e8d" stop-opacity="0.75"/><stop offset="0.2359" stop-color="#33638d" stop-opacity="0.75"/><stop offset="0.2696" stop-color="#30698e" stop-opacity="0.75"/><stop offset="0.3052" stop-color="#2e6f8e" stop-opacity="0.75"/><stop offset="0.3428" stop-color="#2b758e" stop-opacity="0.75"/><stop offset="0.3824" stop-color="#297b8e" stop-opacity="0.75"/><stop offset="0.4238" stop-color="#26828e" stop-opacity="0.75"/><stop offset="0.4671" stop-color="#23888e" stop-opacity="0.75"/><stop offset="0.5123" stop-color="#21908d" stop-opacity="0.75"/><stop offset="0.5593" stop-color="#1f968b" stop-opacity="0.75"/><stop offset="0.6082" stop-color="#1e9d89" stop-opacity="0.75"/><stop offset="0.6589" stop-color="#20a386" stop-opacity="0.75"/><stop offset="0.7113" stop-color="#25ab82" stop-opacity="0.75"/><stop offset="0.7656" stop-color="#2cb17e" stop-opacity="0.75"/><stop offset="0.8216" stop-color="#35b779" stop-opacity="0.75"/><stop offset="0.8793" stop-color="#40bd72" stop-opacity="0.75"/><stop offset="0.9388" stop-color="#4cc26c" stop-opacity="0.75"/><stop offset="1.0000" stop-color="#5ac864" stop-opacity="0.75"/></linearGradient><linearGradient id="g37" gradientUnits="userSpaceOnUse" x1="422.28" y1="0" x2="594.52" y2="0"><stop offset="0.0000" stop-color="#404588" stop-opacity="0.92"/><stop offset="0.0023" stop-color="#404588" stop-opacity="0.92"/><stop offset="0.0081" stop-color="#404688" stop-opacity="0.92"/><stop offset="0.0168" stop-color="#404688" stop-opacity="0.92"/><stop offset="0.0283" stop-color="#404688" stop-opacity="0.92"/><stop offset="0.0423" stop-color="#3f4788" stop-opacity="0.92"/><stop offset="0.0587" stop-color="#3f4889" stop-opacity="0.92"/><stop offset="0.0774" stop-color="#3e4a89" stop-opacity="0.92"/><stop offset="0.0985" stop-color="#3e4c8a" stop-opacity="0.92"/><stop offset="0.1217" stop-color="#3c4f8a" stop-opacity="0.92"/><stop offset="0.1471" stop-color="#3b518b" stop-opacity="0.90"/><stop offset="0.1747" stop-color="#39558c" stop-opacity="0.84"/><stop offset="0.2043" stop-color="#38598c" stop-opacity="0.77"/><stop offset="0.2359" stop-color="#355e8d" stop-opacity="0.75"/><stop offset="0.2696" stop-color="#33638d" stop-opacity="0.75"/><stop offset="0.3052" stop-color="#31688e" stop-opacity="0.75"/><stop offset="0.3428" stop-color="#2e6d8e" stop-opacity="0.75"/><stop offset="0.3824" stop-color="#2c728e" stop-opacity="0.75"/><stop offset="0.4238" stop-color="#29798e" stop-opacity="0.75"/><stop offset="0.4671" stop-color="#277f8e" stop-opacity="0.75"/><stop offset="0.5123" stop-color="#25858e" stop-opacity="0.75"/><stop offset="0.5593" stop-color="#228b8d" stop-opacity="0.75"/><stop offset="0.6082" stop-color="#20928c" stop-opacity="0.75"/><stop offset="0.6589" stop-color="#1f988b" stop-opacity="0.75"/><stop offset="0.7113" stop-color="#1f9f88" stop-opacity="0.75"/><stop offset="0.7656" stop-color="#20a486" stop-opacity="0.75"/><stop offset="0.8216" stop-color="#25ab82" stop-opacity="0.75"/><stop offset="0.8793" stop-color="#2cb17e" stop-opacity="0.75"/><stop offset="0.9388" stop-color="#34b679" stop-opacity="0.75"/><stop offset="1.0000" stop-color="#3fbc73" stop-opacity="0.75"/></linearGradient><linearGradient id="g38" gradientUnits="userSpaceOnUse" x1="422.28" y1="0" x2="594.52" y2="0"><stop offset="0.0000" stop-color="#404588" stop-opacity="0.92"/><stop offset="0.0023" stop-color="#404588" stop-opacity="0.92"/><stop offset="0.0081" stop-color="#404588" stop-opacity="0.92"/><stop offset="0.0168" stop-color="#404688" stop-opacity="0.92"/><stop offset="0.0283" stop-color="#404688" stop-opacity="0.92"/><stop offset="0.0423" stop-color="#3f4788" stop-opacity="0.92"/><stop offset="0.0587" stop-color="#3f4889" stop-opacity="0.92"/><stop offset="0.0774" stop-color="#3e4989" stop-opacity="0.92"/><stop offset="0.0985" stop-color="#3e4a89" stop-opacity="0.92"/><stop offset="0.1217" stop-color="#3d4d8a" stop-opacity="0.92"/><stop offset="0.1471" stop-color="#3c4f8a" stop-opacity="0.92"/><stop offset="0.1747" stop-color="#3b528b" stop-opacity="0.88"/><stop offset="0.2043" stop-color="#39558c" stop-opacity="0.82"/><stop offset="0.2359" stop-color="#375a8c" stop-opacity="0.75"/><stop offset="0.2696" stop-color="#355e8d" stop-opacity="0.75"/><stop offset="0.3052" stop-color="#33628d" stop-opacity="0.75"/><stop offset="0.3428" stop-color="#31678e" stop-opacity="0.75"/><stop offset="0.3824" stop-color="#2f6c8e" stop-opacity="0.75"/><stop offset="0.4238" stop-color="#2c718e" stop-opacity="0.75"/><stop offset="0.4671" stop-color="#2a778e" stop-opacity="0.75"/><stop offset="0.5123" stop-color="#287d8e" stop-opacity="0.75"/><stop offset="0.5593" stop-color="#26828e" stop-opacity="0.75"/><stop offset="0.6082" stop-color="#23888e" stop-opacity="0.75"/><stop offset="0.6589" stop-color="#218e8d" stop-opacity="0.75"/><stop offset="0.7113" stop-color="#1f948c" stop-opacity="0.75"/><stop offset="0.7656" stop-color="#1f9a8a" stop-opacity="0.75"/><stop offset="0.8216" stop-color="#1fa088" stop-opacity="0.75"/><stop offset="0.8793" stop-color="#21a685" stop-opacity="0.75"/><stop offset="0.9388" stop-color="#25ac82" stop-opacity="0.75"/><stop offset="1.0000" stop-color="#2cb17e" stop-opacity="0.75"/></linearGradient><linearGradient id="g39" gradientUnits="userSpaceOnUse" x1="422.28" y1="0" x2="594.52" y2="0"><stop offset="0.0000" stop-color="#404588" stop-opacity="0.92"/><stop offset="0.0023" stop-color="#404588" stop-opacity="0.92"/><stop offset="0.0081" stop-color="#404588" stop-opacity="0.92"/><stop offset="0.0168" stop-color="#404688" stop-opacity="0.92"/><stop offset="0.0283" stop-color="#404688" stop-opacity="0.92"/><stop offset="0.0423" stop-color="#404688" stop-opacity="0.92"/><stop offset="0.0587" stop-color="#3f4788" stop-opacity="0.92"/><stop offset="0.0774" stop-color="#3f4889" stop-opacity="0.92"/><stop offset="0.0985" stop-color="#3e4989" stop-opacity="0.92"/><stop offset="0.1217" stop-color="#3e4c8a" stop-opacity="0.92"/><stop offset="0.1471" stop-color="#3d4d8a" stop-opacity="0.92"/><stop offset="0.1747" stop-color="#3c508b" stop-opacity="0.92"/><stop offset="0.2043" stop-color="#3b528b" stop-opacity="0.86"/><stop offset="0.2359" stop-color="#39558c" stop-opacity="0.80"/><stop offset="0.2696" stop-color="#375a8c" stop-opacity="0.75"/><stop offset="0.3052" stop-color="#355e8d" stop-opacity="0.75"/><stop offset="0.3428" stop-color="#33628d" stop-opacity="0.75"/><stop offset="0.3824" stop-color="#31678e" stop-opacity="0.75"/><stop offset="0.4238" stop-color="#2f6c8e" stop-opacity="0.75"/><stop offset="0.4671" stop-color="#2d718e" stop-opacity="0.75"/><stop offset="0.5123" stop-color="#2b758e" stop-opacity="0.75"/><stop offset="0.5593" stop-color="#297b8e" stop-opacity="0.75"/><stop offset="0.6082" stop-color="#26818e" stop-opacity="0.75"/><stop offset="0.6589" stop-color="#24868e" stop-opacity="0.75"/><stop offset="0.7113" stop-color="#228c8d" stop-opacity="0.75"/><stop offset="0.7656" stop-color="#20928c" stop-opacity="0.75"/><stop offset="0.8216" stop-color="#1f978b" stop-opacity="0.75"/><stop offset="0.8793" stop-color="#1e9d89" stop-opacity="0.75"/><stop offset="0.9388" stop-color="#1fa287" stop-opacity="0.75"/><stop offset="1.0000" stop-color="#22a884" stop-opacity="0.75"/></linearGradient><linearGradient id="g40" gradientUnits="userSpaceOnUse" x1="422.28" y1="0" x2="594.52" y2="0"><stop offset="0.0000" stop-color="#404588" stop-opacity="0.92"/><stop offset="0.0023" stop-color="#404588" stop-opacity="0.92"/><stop offset="0.0081" stop-color="#404588" stop-opacity="0.92"/><stop offset="0.0168" stop-color="#404588" stop-opacity="0.92"/><stop offset="0.0283" stop-color="#404688" stop-opacity="0.92"/><stop offset="0.0423" stop-color="#404688" stop-opacity="0.92"/><stop offset="0.0587" stop-color="#3f4788" stop-opacity="0.92"/><stop offset="0.0774" stop-color="#3f4788" stop-opacity="0.92"/><stop offset="0.0985" stop-color="#3f4889" stop-opacity="0.92"/><stop offset="0.1217" stop-color="#3e4a89" stop-opacity="0.92"/><stop offset="0.1471" stop-color="#3e4c8a" stop-opacity="0.92"/><stop offset="0.1747" stop-color="#3d4e8a" stop-opacity="0.92"/><stop offset="0.2043" stop-color="#3c508b" stop-opacity="0.90"/><stop offset="0.2359" stop-color="#3a538b" stop-opacity="0.84"/><stop offset="0.2696" stop-color="#39568c" stop-opacity="0.78"/><stop offset="0.3052" stop-color="#375a8c" stop-opacity="0.75"/><stop offset="0.3428" stop-color="#355e8d" stop-opacity="0.75"/><stop offset="0.3824" stop-color="#33628d" stop-opacity="0.75"/><stop offset="0.4238" stop-color="#31678e" stop-opacity="0.75"/><stop offset="0.4671" stop-color="#2f6b8e" stop-opacity="0.75"/><stop offset="0.5123" stop-color="#2d708e" stop-opacity="0.75"/><stop offset="0.5593" stop-color="#2b748e" stop-opacity="0.75"/><stop offset="0.6082" stop-color="#297a8e" stop-opacity="0.75"/><stop offset="0.6589" stop-color="#277f8e" stop-opacity="0.75"/><stop offset="0.7113" stop-color="#25848e" stop-opacity="0.75"/><stop offset="0.7656" stop-color="#238a8d" stop-opacity="0.75"/><stop offset="0.8216" stop-color="#218f8d" stop-opacity="0.75"/><stop offset="0.8793" stop-color="#1f948c" stop-opacity="0.75"/><stop offset="0.9388" stop-color="#1f9a8a" stop-opacity="0.75"/><stop offset="1.0000" stop-color="#1f9f88" stop-opacity="0.75"/></linearGradient><linearGradient id="g41" gradientUnits="userSpaceOnUse" x1="422.28" y1="0" x2="594.52" y2="0"><stop offset="0.0000" stop-color="#404588" stop-opacity="0.92"/><stop offset="0.0023" stop-color="#404588" stop-opacity="0.92"/><stop offset="0.0081" stop-color="#404588" stop-opacity="0.92"/><stop offset="0.0168" stop-color="#404588" stop-opacity="0.92"/><stop offset="0.0283" stop-color="#404688" stop-opacity="0.92"/><stop offset="0.0423" stop-color="#404688" stop-opacity="0.92"/><stop offset="0.0587" stop-color="#404688" stop-opacity="0.92"/><stop offset="0.0774" stop-color="#3f4788" stop-opacity="0.92"/><stop offset="0.0985" stop-color="#3f4889" stop-opacity="0.92"/><stop offset="0.1217" stop-color="#3e4989" stop-opacity="0.92"/><stop offset="0.1471" stop-color="#3e4a89" stop-opacity="0.92"/><stop offset="0.1747" stop-color="#3d4d8a" stop-opacity="0.92"/><stop offset="0.2043" stop-color="#3c4f8a" stop-opacity="0.92"/><stop offset="0.2359" stop-color="#3b518b" stop-opacity="0.88"/><stop offset="0.2696" stop-color="#3a548c" stop-opacity="0.82"/><stop offset="0.3052" stop-color="#38588c" stop-opacity="0.75"/><stop offset="0.3428" stop-color="#375b8d" stop-opacity="0.75"/><stop offset="0.3824" stop-color="#355f8d" stop-opacity="0.75"/><stop offset="0.4238" stop-color="#33638d" stop-opacity="0.75"/><stop offset="0.4671" stop-color="#31678e" stop-opacity="0.75"/><stop offset="0.5123" stop-color="#2f6b8e" stop-opacity="0.75"/><stop offset="0.5593" stop-color="#2d708e" stop-opacity="0.75"/><stop offset="0.6082" stop-color="#2b748e" stop-opacity="0.75"/><stop offset="0.6589" stop-color="#29798e" stop-opacity="0.75"/><stop offset="0.7113" stop-color="#277e8e" stop-opacity="0.75"/><stop offset="0.7656" stop-color="#25838e" stop-opacity="0.75"/><stop offset="0.8216" stop-color="#23888e" stop-opacity="0.75"/><stop offset="0.8793" stop-color="#228d8d" stop-opacity="0.75"/><stop offset="0.9388" stop-color="#20928c" stop-opacity="0.75"/><stop offset="1.0000" stop-color="#1f978b" stop-opacity="0.75"/></linearGradient><linearGradient id="g42" gradientUnits="userSpaceOnUse" x1="422.28" y1="0" x2="594.52" y2="0"><stop offset="0.0000" stop-color="#404588" stop-opacity="0.92"/><stop offset="0.0023" stop-color="#404588" stop-opacity="0.92"/><stop offset="0.0081" stop-color="#404588" stop-opacity="0.92"/><stop offset="0.0168" stop-color="#404588" stop-opacity="0.92"/><stop offset="0.0283" stop-color="#404588" stop-opacity="0.92"/><stop offset="0.0423" stop-color="#404688" stop-opacity="0.92"/><stop offset="0.0587" stop-color="#404688" stop-opacity="0.92"/><stop offset="0.0774" stop-color="#3f4788" stop-opacity="0.92"/><stop offset="0.0985" stop-color="#3f4788" stop-opacity="0.92"/><stop offset="0.1217" stop-color="#3f4889" stop-opacity="0.92"/><stop offset="0.1471" stop-color="#3e4989" stop-opacity="0.92"/><stop offset="0.1747" stop-color="#3e4c8a" stop-opacity="0.92"/><stop offset="0.2043" stop-color="#3d4e8a" stop-opacity="0.92"/><stop offset="0.2359" stop-color="#3c508b" stop-opacity="0.90"/><stop offset="0.2696" stop-color="#3b528b" stop-opacity="0.85"/><stop offset="0.3052" stop-color="#3a548c" stop-opacity="0.79"/><stop offset="0.3428" stop-color="#38588c" stop-opacity="0.75"/><stop offset="0.3824" stop-color="#365c8d" stop-opacity="0.75"/><stop offset="0.4238" stop-color="#355f8d" stop-opacity="0.75"/><stop offset="0.4671" stop-color="#33638d" stop-opacity="0.75"/><stop offset="0.5123" stop-color="#31678e" stop-opacity="0.75"/><stop offset="0.5593" stop-color="#2f6b8e" stop-opacity="0.75"/><stop offset="0.6082" stop-color="#2d708e" stop-opacity="0.75"/><stop offset="0.6589" stop-color="#2b748e" stop-opacity="0.75"/><stop offset="0.7113" stop-color="#29798e" stop-opacity="0.75"/><stop offset="0.7656" stop-color="#287d8e" stop-opacity="0.75"/><stop offset="0.8216" stop-color="#26828e" stop-opacity="0.75"/><stop offset="0.8793" stop-color="#24878e" stop-opacity="0.75"/><stop offset="0.9388" stop-color="#228c8d" stop-opacity="0.75"/><stop offset="1.0000" stop-color="#21918c" stop-opacity="0.75"/></linearGradient><linearGradient id="g43" gradientUnits="userSpaceOnUse" x1="422.28" y1="0" x2="594.52" y2="0"><stop offset="0.0000" stop-color="#404588" stop-opacity="0.92"/><stop offset="0.0023" stop-color="#404588" stop-opacity="0.92"/><stop offset="0.0081" stop-color="#404588" stop-opacity="0.92"/><stop offset="0.0168" stop-color="#404588" stop-opacity="0.92"/><stop offset="0.0283" stop-color="#404588" stop-opacity="0.92"/><stop offset="0.0423" stop-color="#404688" stop-opacity="0.92"/><stop offset="0.0587" stop-color="#404688" stop-opacity="0.92"/><stop offset="0.0774" stop-color="#404688" stop-opacity="0.92"/><stop offset="0.0985" stop-color="#3f4788" stop-opacity="0.92"/><stop offset="0.1217" stop-color="#3f4889" stop-opacity="0.92"/><stop offset="0.1471" stop-color="#3e4989" stop-opacity="0.92"/><stop offset="0.1747" stop-color="#3e4a89" stop-opacity="0.92"/><stop offset="0.2043" stop-color="#3d4d8a" stop-opacity="0.92"/><stop offset="0.2359" stop-color="#3d4e8a" stop-opacity="0.92"/><stop offset="0.2696" stop-color="#3c508b" stop-opacity="0.88"/><stop offset="0.3052" stop-color="#3a538b" stop-opacity="0.83"/><stop offset="0.3428" stop-color="#39558c" stop-opacity="0.77"/><stop offset="0.3824" stop-color="#38598c" stop-opacity="0.75"/><stop offset="0.4238" stop-color="#365c8d" stop-opacity="0.75"/><stop offset="0.4671" stop-color="#34608d" stop-opacity="0.75"/><stop offset="0.5123" stop-color="#32648e" stop-opacity="0.75"/><stop offset="0.5593" stop-color="#31688e" stop-opacity="0.75"/><stop offset="0.6082" stop-color="#2f6c8e" stop-opacity="0.75"/><stop offset="0.6589" stop-color="#2d708e" stop-opacity="0.75"/><stop offset="0.7113" stop-color="#2b748e" stop-opacity="0.75"/><stop offset="0.7656" stop-color="#2a788e" stop-opacity="0.75"/><stop offset="0.8216" stop-color="#287d8e" stop-opacity="0.75"/><stop offset="0.8793" stop-color="#26828e" stop-opacity="0.75"/><stop offset="0.9388" stop-color="#24868e" stop-opacity="0.75"/><stop offset="1.0000" stop-color="#228b8d" stop-opacity="0.75"/></linearGradient><linearGradient id="g44" gradientUnits="userSpaceOnUse" x1="422.28" y1="0" x2="594.52" y2="0"><stop offset="0.0000" stop-color="#404588" stop-opacity="0.92"/><stop offset="0.0023" stop-color="#404588" stop-opacity="0.92"/><stop offset="0.0081" stop-color="#404588" stop-opacity="0.92"/><stop offset="0.0168" stop-color="#404588" stop-opacity="0.92"/><stop offset="0.0283" stop-color="#404588" stop-opacity="0.92"/><stop offset="0.0423" stop-color="#404688" stop-opacity="0.92"/><stop offset="0.0587" stop-color="#404688" stop-opacity="0.92"/><stop offset="0.0774" stop-color="#404688" stop-opacity="0.92"/><stop offset="0.0985" stop-color="#3f4788" stop-opacity="0.92"/><stop offset="0.1217" stop-color="#3f4788" stop-opacity="0.92"/><stop offset="0.1471" stop-color="#3f4889" stop-opacity="0.92"/><stop offset="0.1747" stop-color="#3e4989" stop-opacity="0.92"/><stop offset="0.2043" stop-color="#3e4c8a" stop-opacity="0.92"/><stop offset="0.2359" stop-color="#3d4d8a" stop-opacity="0.92"/><stop offset="0.2696" stop-color="#3c4f8a" stop-opacity="0.90"/><stop offset="0.3052" stop-color="#3b518b" stop-opacity="0.86"/><stop offset="0.3428" stop-color="#3a538b" stop-opacity="0.80"/><stop offset="0.3824" stop-color="#39568c" stop-opacity="0.75"/><stop offset="0.4238" stop-color="#375a8c" stop-opacity="0.75"/><stop offset="0.4671" stop-color="#365d8d" stop-opacity="0.75"/><stop offset="0.5123" stop-color="#34618d" stop-opacity="0.75"/><stop offset="0.5593" stop-color="#32648e" stop-opacity="0.75"/><stop offset="0.6082" stop-color="#31688e" stop-opacity="0.75"/><stop offset="0.6589" stop-color="#2f6c8e" stop-opacity="0.75"/><stop offset="0.7113" stop-color="#2d708e" stop-opacity="0.75"/><stop offset="0.7656" stop-color="#2b748e" stop-opacity="0.75"/><stop offset="0.8216" stop-color="#2a788e" stop-opacity="0.75"/><stop offset="0.8793" stop-color="#287d8e" stop-opacity="0.75"/><stop offset="0.9388" stop-color="#26818e" stop-opacity="0.75"/><stop offset="1.0000" stop-color="#25858e" stop-opacity="0.75"/></linearGradient><linearGradient id="cb" x1="0" y1="0" x2="0" y2="1"><stop offset="0.000" stop-color="#fde725"/><stop offset="0.031" stop-color="#ece51b"/><stop offset="0.062" stop-color="#d8e219"/><stop offset="0.094" stop-color="#c2df23"/><stop offset="0.125" stop-color="#addc30"/><stop offset="0.156" stop-color="#98d83e"/><stop offset="0.188" stop-color="#84d44b"/><stop offset="0.219" stop-color="#70cf57"/><stop offset="0.250" stop-color="#5ec962"/><stop offset="0.281" stop-color="#4ec36b"/><stop offset="0.312" stop-color="#3fbc73"/><stop offset="0.344" stop-color="#32b67a"/><stop offset="0.375" stop-color="#28ae80"/><stop offset="0.406" stop-color="#22a785"/><stop offset="0.438" stop-color="#1fa088"/><stop offset="0.469" stop-color="#1f988b"/><stop offset="0.500" stop-color="#21918c"/><stop offset="0.531" stop-color="#23898e"/><stop offset="0.562" stop-color="#26828e"/><stop offset="0.594" stop-color="#297a8e"/><stop offset="0.625" stop-color="#2c728e"/><stop offset="0.656" stop-color="#2f6b8e"/><stop offset="0.688" stop-color="#33638d"/><stop offset="0.719" stop-color="#375b8d"/><stop offset="0.750" stop-color="#3b528b"/><stop offset="0.781" stop-color="#3e4989"/><stop offset="0.812" stop-color="#424086"/><stop offset="0.844" stop-color="#453781"/><stop offset="0.875" stop-color="#472d7b"/><stop offset="0.906" stop-color="#482374"/><stop offset="0.938" stop-color="#48186a"/><stop offset="0.969" stop-color="#470d60"/><stop offset="1.000" stop-color="#440154"/></linearGradient></defs><rect width="685" height="653" fill="#fff"/><g stroke="#cdcdcd" stroke-width="1"><line x1="69.58" y1="47.3" x2="69.58" y2="277.5"/><line x1="133.37" y1="47.3" x2="133.37" y2="277.5"/><line x1="197.17" y1="47.3" x2="197.17" y2="277.5"/><line x1="260.96" y1="47.3" x2="260.96" y2="277.5"/><line x1="50.7" y1="223.97" x2="292.6" y2="223.97"/><line x1="50.7" y1="170.43" x2="292.6" y2="170.43"/><line x1="50.7" y1="116.9" x2="292.6" y2="116.9"/><line x1="50.7" y1="63.36" x2="292.6" y2="63.36"/></g><g clip-path="url(#c0)" fill="none" stroke-width="2.2" stroke-linejoin="round"><polyline points="101.5,101.6 102.5,139.0 103.8,168.7 104.6,181.2 105.4,191.8 106.3,201.2 107.4,209.8 108.5,217.2 109.8,223.7 111.3,229.4 112.9,234.3 114.8,238.7 116.9,242.3 119.2,245.5 121.9,248.2 125.1,250.7 128.3,252.4 132.1,254.0 136.6,255.3 141.7,256.3 147.4,257.0 153.8,257.4 160.8,257.6 169.1,257.6 178.7,257.3 201.6,256.1 232.3,253.8 273.7,250.2" stroke="url(#g1)"/><polyline points="101.5,24.6 102.5,78.5 103.8,121.3 104.6,139.3 105.4,154.6 106.3,168.2 107.4,180.6 108.5,191.3 109.8,200.7 111.3,209.0 112.9,216.2 114.8,222.5 116.9,227.8 119.2,232.5 121.9,236.5 123.2,238.0 125.1,240.0 128.3,242.7 132.1,245.1 136.6,247.1 141.7,248.7 147.4,249.9 153.8,250.8 160.8,251.3 169.1,251.5 178.7,251.4 189.5,251.0 202.3,250.3 216.3,249.2 232.9,247.8 273.7,243.7" stroke="url(#g2)"/><polyline points="101.5,-66.3 102.5,7.1 103.8,65.3 104.6,89.9 105.4,110.7 106.3,129.2 107.4,146.2 108.5,160.7 109.8,173.5 111.3,184.9 112.9,194.7 114.8,203.3 116.9,210.6 119.2,217.0 120.5,219.9 121.9,222.6 123.2,224.7 125.1,227.5 126.4,229.2 128.3,231.3 130.2,233.1 132.1,234.6 134.0,236.0 136.6,237.5 139.1,238.8 141.7,239.9 144.2,240.8 147.4,241.7 153.8,243.0 161.4,244.0 169.7,244.5 179.3,244.7 190.1,244.4 202.9,243.7 216.9,242.7 233.5,241.2 252.0,239.3 273.7,236.8" stroke="url(#g3)"/><polyline points="101.6,-150.8 102.8,-55.4 104.1,13.6 104.9,43.2 105.7,69.6 106.7,92.9 107.8,113.2 109.0,131.4 110.3,146.9 111.7,160.8 113.4,173.1 115.3,183.7 117.4,192.9 119.8,201.0 121.3,205.0 122.5,208.0 123.8,210.7 125.7,214.2 127.0,216.3 128.9,219.0 130.8,221.3 132.7,223.3 134.7,225.0 137.2,227.0 139.8,228.6 142.3,230.0 144.9,231.2 148.0,232.5 151.2,233.5 154.4,234.4 158.3,235.2 162.1,235.8 170.4,236.7 179.9,237.1 190.8,237.1 203.5,236.6 217.6,235.6 234.2,234.0 252.7,232.0 273.7,229.4" stroke="url(#g4)"/><polyline points="102.7,-150.8 104.0,-61.4 105.5,6.2 106.4,34.7 107.3,60.2 108.4,82.7 109.6,103.0 110.9,120.6 112.4,136.5 114.0,150.3 115.9,162.8 117.9,173.5 120.2,182.9 122.5,190.3 123.8,193.7 125.7,198.2 127.0,200.8 128.9,204.3 130.8,207.2 132.7,209.8 134.7,212.1 136.6,214.0 138.5,215.8 141.0,217.8 143.6,219.5 146.1,221.0 149.3,222.5 152.5,223.8 155.7,224.9 158.9,225.8 162.7,226.7 166.5,227.4 174.8,228.4 184.4,228.9 195.3,228.9 207.4,228.5 221.4,227.5 236.7,226.0 253.9,224.0 273.7,221.5" stroke="url(#g5)"/><polyline points="103.9,-150.8 105.3,-68.4 106.0,-34.7 106.9,-3.8 107.9,24.2 108.9,49.1 110.1,71.1 111.4,91.0 112.8,108.3 114.3,124.0 116.1,137.8 118.0,150.2 120.1,160.9 122.5,170.5 125.1,178.6 126.4,182.0 128.3,186.5 129.5,189.2 131.5,192.7 133.4,195.8 135.3,198.5 137.2,200.9 139.8,203.7 142.3,206.0 144.9,208.1 147.4,209.8 150.0,211.3 153.2,213.0 156.3,214.3 159.5,215.5 162.7,216.5 166.5,217.4 170.4,218.2 178.7,219.3 188.2,220.0 199.1,220.1 210.6,219.8 224.0,218.9 238.6,217.5 255.2,215.5 273.7,213.0" stroke="url(#g6)"/><polyline points="105.1,-150.8 106.7,-72.2 107.5,-39.7 108.5,-10.1 109.5,16.6 110.7,40.4 111.9,61.4 113.3,80.6 114.9,97.7 116.6,113.3 118.5,126.9 120.6,139.2 123.2,151.3 125.7,160.6 128.3,168.1 129.5,171.4 131.5,175.7 133.4,179.5 135.3,182.8 137.2,185.7 139.1,188.3 141.0,190.6 143.6,193.3 145.5,195.1 148.0,197.3 150.6,199.1 153.8,201.1 156.3,202.5 159.5,203.9 162.7,205.2 166.5,206.5 170.4,207.5 174.2,208.3 178.0,209.0 182.5,209.6 192.1,210.4 202.3,210.7 213.8,210.4 226.5,209.6 240.5,208.3 256.5,206.4 273.7,204.0" stroke="url(#g7)"/><polyline points="106.4,-150.8 108.2,-74.3 109.2,-43.5 110.2,-16.6 111.3,8.8 112.6,31.5 113.9,52.3 115.4,70.6 117.1,87.4 118.9,102.3 121.3,117.6 123.2,127.8 125.7,138.9 128.3,148.0 129.5,151.9 131.5,157.0 134.7,164.3 136.6,168.0 138.5,171.2 140.4,174.1 142.3,176.7 144.2,179.1 146.8,181.8 149.3,184.2 151.9,186.4 154.4,188.2 157.6,190.2 160.2,191.6 163.4,193.2 166.5,194.5 170.4,195.8 174.2,196.9 178.0,197.8 181.9,198.6 186.3,199.3 190.8,199.8 195.9,200.2 206.1,200.5 216.9,200.4 229.1,199.7 242.5,198.5 257.1,196.8 273.7,194.4" stroke="url(#g8)"/><polyline points="107.8,-150.8 109.7,-81.7 110.7,-51.8 111.8,-25.6 113.0,-1.9 114.4,20.2 115.9,40.5 117.5,58.3 119.3,75.2 121.3,90.3 123.2,102.3 125.7,115.4 128.3,126.1 130.8,134.8 134.0,143.8 137.2,151.0 139.1,154.7 141.0,158.1 142.9,161.1 144.9,163.8 146.8,166.2 149.3,169.1 151.9,171.6 154.4,173.9 157.0,175.8 160.2,178.0 163.4,179.9 166.5,181.5 169.7,182.9 172.9,184.1 176.8,185.4 180.6,186.4 184.4,187.3 188.9,188.1 197.8,189.1 208.0,189.7 218.9,189.7 231.0,189.1 243.7,188.1 257.8,186.5 273.7,184.3" stroke="url(#g9)"/><polyline points="109.3,-150.8 111.4,-86.3 112.5,-58.8 113.7,-32.8 115.0,-10.1 116.4,10.9 118.0,30.3 119.7,47.4 121.9,65.7 123.8,78.9 125.7,90.0 128.3,102.4 130.8,112.6 134.0,123.0 137.2,131.5 140.4,138.5 142.3,142.2 144.2,145.4 146.1,148.4 148.7,151.9 150.6,154.3 153.2,157.1 155.7,159.6 158.3,161.8 160.8,163.8 164.0,166.0 167.2,167.9 170.4,169.6 173.6,171.0 177.4,172.5 180.6,173.5 184.4,174.6 192.1,176.3 196.5,177.0 201.0,177.5 210.6,178.2 221.4,178.3 232.9,177.9 245.6,177.0 259.0,175.5 273.7,173.5" stroke="url(#g10)"/><polyline points="111.0,-150.8 113.2,-89.3 114.4,-64.4 115.6,-41.4 117.0,-19.6 118.5,0.1 120.1,18.3 121.9,34.8 123.8,49.9 125.7,62.8 128.3,77.0 130.8,88.8 133.4,98.6 136.6,108.8 139.8,117.2 141.7,121.5 143.6,125.4 145.5,129.0 147.4,132.2 149.3,135.1 151.9,138.6 154.4,141.7 157.0,144.5 159.5,147.0 162.1,149.2 164.6,151.2 167.8,153.4 170.4,154.9 173.6,156.7 176.8,158.2 180.6,159.8 183.8,160.9 187.6,162.1 195.3,163.9 199.7,164.6 204.2,165.2 213.8,166.0 224.0,166.3 234.8,166.0 246.9,165.2 259.7,163.9 273.7,162.1" stroke="url(#g11)"/></g><polyline points="163.99,257.64 171.01,251.5 177.77,244.67 184.15,237.16 190.4,228.99 196.4,220.16 202.14,210.68 207.76,200.54 213.24,189.76 218.6,178.34 223.83,166.28" fill="none" stroke="#808080" stroke-width="2"/><g fill="#ff0000" stroke="#707070" stroke-width="0.7"><circle cx="163.99" cy="257.64" r="3.2"/><circle cx="171.01" cy="251.5" r="3.2"/><circle cx="177.77" cy="244.67" r="3.2"/><circle cx="184.15" cy="237.16" r="3.2"/><circle cx="190.4" cy="228.99" r="3.2"/><circle cx="196.4" cy="220.16" r="3.2"/><circle cx="202.14" cy="210.68" r="3.2"/><circle cx="207.76" cy="200.54" r="3.2"/><circle cx="213.24" cy="189.76" r="3.2"/><circle cx="218.6" cy="178.34" r="3.2"/><circle cx="223.83" cy="166.28" r="3.2"/></g><g font-size="10" fill="#000"><text x="273.72" y="253.12">5</text><text x="277.82" y="246.62">6</text><text x="279.82" y="240.29">7</text><text x="281.62" y="233.08">8</text><text x="282.12" y="225.06">9</text><text x="277.22" y="215.92">10</text><text x="278.22" y="206.92">11</text><text x="278.22" y="197.35">12</text><text x="278.22" y="187.18">13</text><text x="278.22" y="176.39">14</text><text x="278.22" y="164.98">15</text></g><rect x="232.92" y="142.18" width="57.8" height="14.1" fill="#fff"/><text x="255.77" y="153.08" font-size="10.8">(L/min)</text><text x="241.92" y="154.78" font-size="8.1" textLength="9.9" lengthAdjust="spacingAndGlyphs">alv</text><text x="234.27" y="153.08" font-size="10.8" font-style="italic">V</text><circle cx="238.52" cy="141.88" r="0.7" fill="#000"/><rect x="50.7" y="47.3" width="241.9" height="230.2" fill="none" stroke="#333" stroke-width="1.2"/><g stroke="#333" stroke-width="1.2"><line x1="69.58" y1="277.5" x2="69.58" y2="274"/><line x1="133.37" y1="277.5" x2="133.37" y2="274"/><line x1="197.17" y1="277.5" x2="197.17" y2="274"/><line x1="260.96" y1="277.5" x2="260.96" y2="274"/><line x1="50.7" y1="277.5" x2="54.2" y2="277.5"/><line x1="50.7" y1="223.97" x2="54.2" y2="223.97"/><line x1="50.7" y1="170.43" x2="54.2" y2="170.43"/><line x1="50.7" y1="116.9" x2="54.2" y2="116.9"/><line x1="50.7" y1="63.36" x2="54.2" y2="63.36"/></g><g font-size="19.5"><text x="69.58" y="295.2" text-anchor="middle">0.0</text><text x="133.37" y="295.2" text-anchor="middle">0.5</text><text x="197.17" y="295.2" text-anchor="middle">1.0</text><text x="260.96" y="295.2" text-anchor="middle">1.5</text><text x="47.1" y="284.4" text-anchor="end">0</text><text x="47.1" y="230.87" text-anchor="end">10</text><text x="47.1" y="177.33" text-anchor="end">20</text><text x="47.1" y="123.8" text-anchor="end">30</text><text x="47.1" y="70.26" text-anchor="end">40</text></g><g font-size="19.3" text-anchor="end"><text x="292.6" y="14.1">Normal lung (E = 10 mbar/L)</text><text x="292.6" y="36.9">8 mm ETT (R = 8 mbar/L/s)</text></g><text x="171.65" y="317.7" font-size="19.5" text-anchor="middle"><tspan font-style="italic">V</tspan><tspan font-size="13.6" dy="3.5">T</tspan><tspan dy="-3.5" dx="1.2"> (L)</tspan></text><text transform="translate(16.8,162.4) rotate(-90)" font-size="19.5" text-anchor="middle">MP (J/min)</text><g stroke="#cdcdcd" stroke-width="1"><line x1="389.48" y1="46.6" x2="389.48" y2="276.8"/><line x1="453.27" y1="46.6" x2="453.27" y2="276.8"/><line x1="517.07" y1="46.6" x2="517.07" y2="276.8"/><line x1="580.86" y1="46.6" x2="580.86" y2="276.8"/><line x1="370.6" y1="223.27" x2="612.5" y2="223.27"/><line x1="370.6" y1="169.73" x2="612.5" y2="169.73"/><line x1="370.6" y1="116.2" x2="612.5" y2="116.2"/><line x1="370.6" y1="62.66" x2="612.5" y2="62.66"/></g><g clip-path="url(#c1)" fill="none" stroke-width="2.2" stroke-linejoin="round"><polyline points="421.4,97.9 422.4,135.1 423.7,164.5 424.5,176.9 425.3,187.4 426.2,196.6 427.3,205.1 428.4,212.2 429.7,218.5 431.2,224.0 432.8,228.7 434.7,232.7 436.8,236.0 439.1,238.8 441.8,241.1 445.0,243.0 448.2,244.4 452.0,245.4 455.8,246.0 460.3,246.4 466.0,246.4 472.4,246.1 479.4,245.6 487.7,244.6 497.3,243.3 520.9,239.6 552.2,233.9 593.6,226.0" stroke="url(#g12)"/><polyline points="421.4,20.9 422.4,74.6 423.7,117.1 424.5,135.0 425.3,150.2 426.2,163.6 427.3,175.8 428.4,186.2 429.7,195.4 431.2,203.5 432.8,210.3 434.7,216.2 436.8,221.2 439.1,225.4 440.4,227.2 441.8,228.9 443.1,230.2 445.0,231.9 448.2,234.0 450.1,235.0 452.0,235.7 455.8,236.9 460.3,237.6 466.0,238.0 472.4,238.0 479.4,237.5 487.7,236.6 497.3,235.2 508.1,233.4 520.9,231.0 535.6,228.0 552.2,224.4 593.6,215.0" stroke="url(#g13)"/><polyline points="421.4,-70.0 422.4,3.1 423.7,61.1 424.5,85.6 425.3,106.2 426.2,124.6 427.3,141.3 428.4,155.6 429.7,168.1 431.2,179.3 432.8,188.7 434.7,196.9 436.8,203.8 439.1,209.7 440.4,212.3 441.8,214.7 443.1,216.6 445.0,219.0 446.3,220.4 448.2,222.1 450.1,223.5 452.0,224.7 455.8,226.5 460.3,227.8 462.8,228.3 466.0,228.7 472.4,229.0 480.1,228.7 488.4,227.8 497.9,226.4 508.8,224.4 520.9,221.9 535.6,218.5 552.2,214.5 571.3,209.6 593.6,203.7" stroke="url(#g14)"/><polyline points="421.6,-151.5 422.7,-59.4 424.0,9.4 424.8,38.8 425.6,65.0 426.6,88.2 427.7,108.3 428.9,126.2 430.2,141.4 431.6,155.0 433.3,166.9 435.2,177.1 437.3,185.9 438.5,189.7 439.7,193.4 441.2,197.1 442.4,199.8 443.7,202.2 445.6,205.3 446.9,207.0 448.8,209.3 450.7,211.2 452.6,212.7 454.6,214.0 457.1,215.4 459.7,216.5 462.2,217.4 464.8,218.0 467.3,218.5 470.5,218.9 473.7,219.1 480.7,219.0 489.0,218.3 498.6,216.9 509.4,214.9 521.5,212.1 535.6,208.6 552.2,204.2 571.3,198.7 593.6,192.1" stroke="url(#g15)"/><polyline points="422.7,-151.5 423.9,-65.7 425.4,1.6 426.3,30.0 427.3,56.4 428.3,78.4 429.5,98.4 430.8,115.5 432.3,131.0 433.9,144.3 435.8,156.0 437.8,166.3 440.1,175.1 442.4,181.9 443.7,185.0 445.6,189.1 446.9,191.4 448.8,194.3 450.7,196.8 452.6,198.9 454.6,200.7 456.5,202.2 458.4,203.5 460.9,204.9 463.5,206.0 466.0,206.8 468.6,207.5 471.8,208.0 475.0,208.4 478.2,208.6 485.2,208.5 493.5,207.7 502.4,206.2 513.2,204.0 525.4,201.0 538.8,197.3 554.7,192.6 572.6,187.0 593.6,180.1" stroke="url(#g16)"/><polyline points="423.8,-151.5 425.2,-70.6 426.0,-37.5 426.8,-7.1 427.8,20.4 428.9,44.8 430.0,66.4 431.3,85.9 432.7,102.7 434.3,117.9 436.0,131.2 438.0,143.1 440.1,153.2 442.4,162.0 445.0,169.4 446.3,172.5 448.2,176.5 449.4,178.9 451.4,181.9 453.3,184.5 455.2,186.7 457.1,188.5 459.7,190.6 461.6,191.9 464.1,193.3 466.7,194.5 469.2,195.4 471.8,196.1 475.0,196.7 478.2,197.1 481.3,197.3 485.2,197.4 489.0,197.2 497.3,196.3 506.2,194.8 516.4,192.6 528.5,189.4 541.9,185.4 557.3,180.5 574.5,174.6 593.6,167.7" stroke="url(#g17)"/><polyline points="425.0,-151.5 426.7,-73.1 427.5,-41.5 428.5,-12.7 429.5,13.3 430.7,36.5 431.9,56.9 433.3,75.4 434.9,92.0 436.6,106.9 438.5,119.9 440.5,131.4 441.8,137.3 443.1,142.5 445.6,151.1 448.2,158.0 449.4,160.9 451.4,164.6 453.3,167.9 455.2,170.7 457.1,173.1 459.0,175.1 460.9,176.9 463.5,178.9 465.4,180.1 467.9,181.5 470.5,182.6 473.1,183.5 475.6,184.2 478.8,184.8 482.0,185.2 485.2,185.4 489.0,185.4 492.8,185.2 496.7,184.9 501.1,184.3 510.0,182.7 520.3,180.3 531.7,177.1 544.5,173.0 559.2,167.9 575.1,162.1 593.6,154.9" stroke="url(#g18)"/><polyline points="426.4,-151.5 428.1,-77.8 429.1,-47.5 430.1,-21.1 431.3,3.9 432.5,26.1 433.9,46.5 435.4,64.2 437.0,80.1 438.8,94.6 441.2,109.2 443.1,118.9 445.6,129.4 448.2,137.7 449.4,141.2 451.4,145.8 452.6,148.5 454.6,152.1 456.5,155.3 458.4,157.9 460.3,160.3 462.2,162.3 464.1,164.1 466.7,166.0 468.6,167.3 471.1,168.7 473.7,169.8 476.9,170.9 479.4,171.6 482.6,172.2 485.8,172.6 489.0,172.8 492.8,172.8 496.7,172.6 500.5,172.2 504.9,171.6 513.9,169.9 524.1,167.3 534.9,164.1 547.0,160.0 561.1,154.8 576.4,148.8 593.6,141.7" stroke="url(#g19)"/><polyline points="427.8,-151.5 429.7,-82.8 430.8,-53.8 431.9,-28.6 433.1,-4.8 434.5,16.4 436.0,35.8 437.6,53.3 439.3,68.5 441.2,81.9 443.1,93.4 445.6,105.8 448.2,115.7 449.4,119.9 451.4,125.4 452.6,128.7 454.6,133.0 457.7,139.0 459.7,142.0 461.6,144.6 463.5,146.9 465.4,148.9 467.3,150.6 469.9,152.6 472.4,154.2 475.0,155.6 477.5,156.7 480.7,157.7 483.3,158.4 486.4,158.9 489.6,159.3 492.8,159.5 496.7,159.4 500.5,159.2 504.3,158.8 508.8,158.2 517.7,156.3 527.3,153.8 538.1,150.4 550.2,146.1 563.0,141.1 577.7,135.0 593.6,128.1" stroke="url(#g20)"/><polyline points="429.3,-151.5 431.5,-87.1 432.6,-60.7 433.8,-35.7 435.1,-13.2 436.6,6.9 438.2,25.3 439.9,41.9 441.8,57.1 443.7,69.7 446.3,83.4 448.8,94.5 451.4,103.4 452.6,107.3 454.6,112.4 457.7,119.6 460.9,125.3 462.8,128.1 464.8,130.7 466.7,132.9 469.2,135.4 471.1,137.1 473.7,138.9 476.2,140.5 478.8,141.8 481.3,142.8 484.5,143.8 487.1,144.5 490.3,145.0 493.5,145.3 496.7,145.5 499.8,145.4 503.7,145.2 511.3,144.2 515.8,143.4 520.3,142.4 529.8,139.8 540.0,136.5 551.5,132.3 564.3,127.1 578.3,121.0 593.6,113.9" stroke="url(#g21)"/><polyline points="431.1,-151.5 432.2,-119.6 433.3,-92.3 434.5,-66.4 435.9,-42.8 437.3,-21.6 438.9,-2.1 440.5,14.7 442.4,31.3 444.3,45.0 446.3,56.6 448.8,69.4 451.4,79.8 453.9,88.4 455.2,92.2 457.1,97.2 460.3,104.2 462.2,107.8 464.1,110.9 466.0,113.7 467.9,116.1 469.9,118.3 472.4,120.8 474.3,122.4 476.9,124.2 479.4,125.8 482.0,127.1 484.5,128.1 487.7,129.1 490.3,129.8 493.5,130.3 496.7,130.6 500.5,130.8 503.7,130.7 507.5,130.5 515.2,129.4 519.6,128.6 524.1,127.5 533.0,125.0 543.2,121.5 554.1,117.4 566.2,112.2 579.6,106.1 593.6,99.4" stroke="url(#g22)"/></g><polyline points="464.12,246.44 468.33,238.07 472.54,228.97 476.37,219.15 480.19,208.61 483.89,197.37 487.47,185.42 490.91,172.79 494.36,159.47 497.67,145.48 500.99,130.8" fill="none" stroke="#808080" stroke-width="2"/><g fill="#ff0000" stroke="#707070" stroke-width="0.7"><circle cx="464.12" cy="246.44" r="3.2"/><circle cx="468.33" cy="238.07" r="3.2"/><circle cx="472.54" cy="228.97" r="3.2"/><circle cx="476.37" cy="219.15" r="3.2"/><circle cx="480.19" cy="208.61" r="3.2"/><circle cx="483.89" cy="197.37" r="3.2"/><circle cx="487.47" cy="185.42" r="3.2"/><circle cx="490.91" cy="172.79" r="3.2"/><circle cx="494.36" cy="159.47" r="3.2"/><circle cx="497.67" cy="145.48" r="3.2"/><circle cx="500.99" cy="130.8" r="3.2"/></g><g font-size="10" fill="#000"><text x="593.52" y="228.9">5</text><text x="597.32" y="217.93">6</text><text x="599.12" y="206.63">7</text><text x="601.12" y="194.99">8</text><text x="601.72" y="182.99">9</text><text x="597.12" y="170.6">10</text><text x="598.12" y="157.81">11</text><text x="598.12" y="144.6">12</text><text x="598.12" y="130.95">13</text><text x="598.12" y="116.85">14</text><text x="598.12" y="102.27">15</text></g><rect x="552.82" y="79.47" width="57.8" height="14.1" fill="#fff"/><text x="575.67" y="90.37" font-size="10.8">(L/min)</text><text x="561.82" y="92.07" font-size="8.1" textLength="9.9" lengthAdjust="spacingAndGlyphs">alv</text><text x="554.17" y="90.37" font-size="10.8" font-style="italic">V</text><circle cx="558.42" cy="79.17" r="0.7" fill="#000"/><rect x="370.6" y="46.6" width="241.9" height="230.2" fill="none" stroke="#333" stroke-width="1.2"/><g stroke="#333" stroke-width="1.2"><line x1="389.48" y1="276.8" x2="389.48" y2="273.3"/><line x1="453.27" y1="276.8" x2="453.27" y2="273.3"/><line x1="517.07" y1="276.8" x2="517.07" y2="273.3"/><line x1="580.86" y1="276.8" x2="580.86" y2="273.3"/><line x1="370.6" y1="276.8" x2="374.1" y2="276.8"/><line x1="370.6" y1="223.27" x2="374.1" y2="223.27"/><line x1="370.6" y1="169.73" x2="374.1" y2="169.73"/><line x1="370.6" y1="116.2" x2="374.1" y2="116.2"/><line x1="370.6" y1="62.66" x2="374.1" y2="62.66"/></g><g font-size="19.5"><text x="389.48" y="294.5" text-anchor="middle">0.0</text><text x="453.27" y="294.5" text-anchor="middle">0.5</text><text x="517.07" y="294.5" text-anchor="middle">1.0</text><text x="580.86" y="294.5" text-anchor="middle">1.5</text><text x="367" y="283.7" text-anchor="end">0</text><text x="367" y="230.17" text-anchor="end">10</text><text x="367" y="176.63" text-anchor="end">20</text><text x="367" y="123.1" text-anchor="end">30</text><text x="367" y="69.56" text-anchor="end">40</text></g><g font-size="19.3" text-anchor="end"><text x="612.5" y="14.1">Stiff lung (E = 20 mbar/L)</text><text x="612.5" y="36.9">8 mm ETT (R = 8 mbar/L/s)</text></g><text x="491.55" y="317" font-size="19.5" text-anchor="middle"><tspan font-style="italic">V</tspan><tspan font-size="13.6" dy="3.5">T</tspan><tspan dy="-3.5" dx="1.2"> (L)</tspan></text><text transform="translate(336.7,161.7) rotate(-90)" font-size="19.5" text-anchor="middle">MP (J/min)</text><g stroke="#cdcdcd" stroke-width="1"><line x1="67.48" y1="377.8" x2="67.48" y2="608"/><line x1="131.27" y1="377.8" x2="131.27" y2="608"/><line x1="195.07" y1="377.8" x2="195.07" y2="608"/><line x1="258.86" y1="377.8" x2="258.86" y2="608"/><line x1="48.6" y1="554.47" x2="290.5" y2="554.47"/><line x1="48.6" y1="500.93" x2="290.5" y2="500.93"/><line x1="48.6" y1="447.4" x2="290.5" y2="447.4"/><line x1="48.6" y1="393.86" x2="290.5" y2="393.86"/></g><g clip-path="url(#c2)" fill="none" stroke-width="2.2" stroke-linejoin="round"><polyline points="99.4,323.2 100.4,384.0 101.7,432.3 102.5,452.7 103.3,470.0 104.2,485.4 105.3,499.4 106.4,511.5 107.7,522.1 109.2,531.6 110.8,539.7 112.7,546.9 114.8,553.0 117.1,558.4 119.8,563.0 121.1,564.8 123.0,567.2 126.2,570.4 128.1,571.9 130.0,573.2 131.9,574.4 134.5,575.7 139.6,577.8 145.3,579.4 151.7,580.6 159.3,581.6 167.6,582.2 177.2,582.5 188.0,582.5 200.8,582.2 214.8,581.6 231.4,580.7 249.9,579.5 271.6,577.8" stroke="url(#g23)"/><polyline points="99.4,198.1 100.4,285.8 101.7,355.3 102.5,384.7 103.3,409.6 104.2,431.8 105.3,452.0 106.4,469.4 107.7,484.7 109.2,498.5 110.8,510.2 112.7,520.6 114.8,529.4 117.1,537.2 118.4,540.7 119.8,543.9 121.1,546.6 123.0,550.0 124.3,552.0 126.2,554.7 128.1,557.0 130.0,558.9 131.9,560.6 134.5,562.6 137.0,564.3 139.6,565.7 142.1,566.9 145.3,568.2 148.5,569.3 151.7,570.2 155.5,571.1 159.3,571.9 168.3,573.1 177.8,573.8 188.7,574.1 201.4,574.0 215.5,573.6 232.1,572.7 250.6,571.4 271.6,569.7" stroke="url(#g24)"/><polyline points="100.5,179.7 101.8,267.2 103.3,336.5 104.1,365.6 105.0,390.3 106.1,413.4 107.2,433.4 108.5,451.4 110.0,467.3 111.6,481.5 113.4,493.7 115.4,504.6 117.7,514.2 119.2,519.4 120.4,523.3 123.0,529.8 124.3,532.5 126.2,536.2 128.1,539.3 130.0,542.0 131.9,544.4 133.8,546.5 135.7,548.4 138.3,550.5 140.8,552.4 143.4,554.0 146.6,555.8 149.8,557.2 153.0,558.5 156.2,559.5 160.0,560.6 163.8,561.5 168.3,562.3 172.7,563.0 182.3,563.9 193.2,564.5 205.3,564.6 219.3,564.2 234.6,563.5 251.8,562.3 271.6,560.6" stroke="url(#g25)"/><polyline points="102.0,179.7 103.5,262.8 104.3,297.2 105.1,327.0 106.1,354.1 107.1,378.3 108.3,400.7 109.6,420.2 111.1,437.7 112.7,453.1 114.4,467.1 116.4,479.4 118.5,490.0 121.1,500.2 123.6,508.3 124.9,511.7 126.8,516.3 128.7,520.2 130.6,523.6 132.6,526.7 134.5,529.3 136.4,531.7 138.9,534.5 140.8,536.3 143.4,538.5 145.9,540.4 148.5,542.1 151.7,543.9 154.9,545.4 158.1,546.8 161.3,547.9 165.1,549.1 168.9,550.1 177.2,551.7 186.8,553.0 197.6,553.7 209.1,554.0 222.5,553.8 237.2,553.2 253.8,552.1 271.6,550.6" stroke="url(#g26)"/><polyline points="103.6,179.7 105.2,254.4 106.1,286.8 107.1,316.3 108.2,342.8 109.4,366.4 110.7,387.3 112.1,406.3 113.8,423.8 115.6,439.6 117.6,453.6 119.8,465.9 122.3,477.4 124.9,486.7 127.4,494.2 130.6,501.9 132.6,505.7 134.5,509.2 136.4,512.2 138.3,514.9 140.2,517.4 142.8,520.3 145.3,522.8 147.9,525.1 150.4,527.0 153.6,529.2 156.2,530.7 159.3,532.4 162.5,533.8 165.7,535.1 169.6,536.4 173.4,537.6 177.2,538.5 181.7,539.4 186.1,540.2 191.2,540.9 201.4,541.8 212.9,542.3 225.7,542.3 239.7,541.9 255.0,541.0 271.6,539.6" stroke="url(#g27)"/><polyline points="105.3,179.7 107.1,249.7 108.2,279.5 109.3,306.8 110.5,331.4 111.8,354.2 113.2,374.3 114.8,392.7 116.6,409.5 118.5,424.5 120.4,436.9 123.0,450.3 125.5,461.2 128.1,470.1 131.3,479.2 134.5,486.6 136.4,490.4 138.3,493.8 140.2,496.9 142.1,499.6 144.0,502.1 146.6,505.1 149.1,507.8 151.7,510.1 154.2,512.2 157.4,514.5 160.0,516.2 163.2,518.0 166.4,519.6 170.2,521.3 174.0,522.7 177.8,523.9 181.7,525.0 186.1,526.1 195.1,527.7 205.3,528.8 216.1,529.5 228.2,529.7 241.6,529.5 255.7,528.8 271.6,527.6" stroke="url(#g28)"/><polyline points="107.2,179.7 109.3,245.0 110.4,272.4 111.6,297.5 112.9,320.2 114.3,341.4 115.9,360.9 117.6,378.2 119.8,396.6 121.7,409.9 123.6,421.1 126.2,433.7 128.7,444.0 131.9,454.6 135.1,463.3 138.3,470.5 140.2,474.2 142.1,477.6 144.0,480.6 146.6,484.3 148.5,486.8 151.1,489.8 153.6,492.4 156.2,494.8 158.7,496.9 161.9,499.3 164.4,501.0 167.6,503.0 170.8,504.6 174.0,506.1 177.8,507.7 181.7,509.1 185.5,510.3 190.0,511.5 198.9,513.3 208.5,514.7 219.3,515.6 230.8,516.0 243.5,516.0 256.9,515.5 271.6,514.6" stroke="url(#g29)"/><polyline points="109.4,179.7 110.6,212.7 111.7,240.9 113.0,266.7 114.3,290.3 115.8,312.3 117.4,332.6 119.2,350.8 121.1,367.6 123.0,381.8 124.9,393.8 127.4,407.4 130.0,418.7 132.6,428.2 135.7,438.2 138.9,446.4 140.8,450.8 142.8,454.7 146.6,461.5 148.5,464.5 151.1,468.1 153.6,471.3 156.2,474.2 158.7,476.8 161.3,479.1 163.8,481.2 167.0,483.6 172.7,487.3 175.9,489.0 179.8,490.9 186.8,493.7 194.4,496.0 198.9,497.1 203.4,498.1 212.3,499.5 222.5,500.6 233.3,501.2 245.5,501.4 258.2,501.1 271.6,500.4" stroke="url(#g30)"/><polyline points="111.8,179.7 113.1,211.9 114.3,236.2 115.7,259.7 117.1,281.1 118.5,299.0 120.4,320.0 122.3,337.6 124.3,352.5 126.2,365.3 128.7,379.9 131.3,392.0 133.8,402.4 136.4,411.3 139.6,420.7 142.8,428.7 146.6,436.7 150.4,443.5 152.3,446.5 154.9,450.1 157.4,453.3 160.0,456.3 162.5,458.9 165.1,461.4 167.6,463.6 170.8,466.1 176.6,469.9 179.8,471.8 182.9,473.4 186.1,474.9 190.0,476.5 197.6,479.1 205.9,481.3 214.8,483.1 225.0,484.4 235.3,485.2 246.7,485.6 258.9,485.6 271.6,485.1" stroke="url(#g31)"/><polyline points="114.4,179.7 117.0,226.8 118.3,247.2 119.8,266.6 121.7,288.2 123.6,306.5 125.5,322.2 127.4,335.7 129.4,347.6 131.9,361.1 134.5,372.7 137.7,384.9 140.8,395.2 144.0,403.9 147.2,411.4 151.1,419.1 154.9,425.6 159.3,432.0 161.9,435.2 164.4,438.2 167.0,440.8 169.6,443.3 172.1,445.5 175.3,448.0 181.0,452.0 187.4,455.6 190.6,457.2 194.4,458.8 202.1,461.6 209.7,463.8 218.7,465.7 227.6,467.1 237.2,468.1 248.0,468.7 259.5,468.9 271.6,468.7" stroke="url(#g32)"/><polyline points="117.5,179.7 119.2,207.0 120.4,225.1 121.7,241.2 123.6,262.2 125.5,280.2 127.4,295.8 129.4,309.4 131.3,321.3 133.2,331.9 135.7,344.2 138.3,354.9 141.5,366.3 144.7,376.0 147.9,384.4 151.7,393.1 155.5,400.4 159.3,406.7 163.8,413.0 166.4,416.2 168.9,419.1 174.0,424.2 176.6,426.5 179.8,429.1 185.5,433.1 191.9,436.8 198.3,439.9 205.3,442.7 212.9,445.1 221.2,447.1 230.2,448.8 239.7,450.0 249.3,450.7 260.1,451.2 271.6,451.2" stroke="url(#g33)"/></g><polyline points="182.95,582.57 192.77,574.11 202.21,564.58 211.14,554.01 219.69,542.39 228.11,529.73 236.15,516.06 243.93,501.36 251.46,485.66 258.86,468.94 266.13,451.22" fill="none" stroke="#808080" stroke-width="2"/><g fill="#ff0000" stroke="#707070" stroke-width="0.7"><circle cx="182.95" cy="582.57" r="3.2"/><circle cx="192.77" cy="574.11" r="3.2"/><circle cx="202.21" cy="564.58" r="3.2"/><circle cx="211.14" cy="554.01" r="3.2"/><circle cx="219.69" cy="542.39" r="3.2"/><circle cx="228.11" cy="529.73" r="3.2"/><circle cx="236.15" cy="516.06" r="3.2"/><circle cx="243.93" cy="501.36" r="3.2"/><circle cx="251.46" cy="485.66" r="3.2"/><circle cx="258.86" cy="468.94" r="3.2"/><circle cx="266.13" cy="451.22" r="3.2"/></g><g font-size="10" fill="#000"><text x="271.52" y="580.69">5</text><text x="275.32" y="572.55">6</text><text x="277.72" y="563.52">7</text><text x="279.12" y="553.53">8</text><text x="279.72" y="542.55">9</text><text x="275.12" y="530.53">10</text><text x="276.12" y="517.45">11</text><text x="276.12" y="503.28">12</text><text x="276.12" y="488.01">13</text><text x="276.12" y="471.61">14</text><text x="276.12" y="454.08">15</text></g><rect x="230.82" y="431.28" width="57.8" height="14.1" fill="#fff"/><text x="253.67" y="442.18" font-size="10.8">(L/min)</text><text x="239.82" y="443.88" font-size="8.1" textLength="9.9" lengthAdjust="spacingAndGlyphs">alv</text><text x="232.17" y="442.18" font-size="10.8" font-style="italic">V</text><circle cx="236.42" cy="430.98" r="0.7" fill="#000"/><rect x="48.6" y="377.8" width="241.9" height="230.2" fill="none" stroke="#333" stroke-width="1.2"/><g stroke="#333" stroke-width="1.2"><line x1="67.48" y1="608" x2="67.48" y2="604.5"/><line x1="131.27" y1="608" x2="131.27" y2="604.5"/><line x1="195.07" y1="608" x2="195.07" y2="604.5"/><line x1="258.86" y1="608" x2="258.86" y2="604.5"/><line x1="48.6" y1="608" x2="52.1" y2="608"/><line x1="48.6" y1="554.47" x2="52.1" y2="554.47"/><line x1="48.6" y1="500.93" x2="52.1" y2="500.93"/><line x1="48.6" y1="447.4" x2="52.1" y2="447.4"/><line x1="48.6" y1="393.86" x2="52.1" y2="393.86"/></g><g font-size="19.5"><text x="67.48" y="625.7" text-anchor="middle">0.0</text><text x="131.27" y="625.7" text-anchor="middle">0.5</text><text x="195.07" y="625.7" text-anchor="middle">1.0</text><text x="258.86" y="625.7" text-anchor="middle">1.5</text><text x="45" y="614.9" text-anchor="end">0</text><text x="45" y="561.37" text-anchor="end">10</text><text x="45" y="507.83" text-anchor="end">20</text><text x="45" y="454.3" text-anchor="end">30</text><text x="45" y="400.76" text-anchor="end">40</text></g><g font-size="19.3" text-anchor="end"><text x="290.5" y="344.3">Normal lung (E = 10 mbar/L)</text><text x="290.5" y="367">7 mm ETT (R = 13 mbar/L/s)</text></g><text x="169.55" y="648.2" font-size="19.5" text-anchor="middle"><tspan font-style="italic">V</tspan><tspan font-size="13.6" dy="3.5">T</tspan><tspan dy="-3.5" dx="1.2"> (L)</tspan></text><text transform="translate(14.7,492.9) rotate(-90)" font-size="19.5" text-anchor="middle">MP (J/min)</text><g stroke="#cdcdcd" stroke-width="1"><line x1="390.38" y1="377.8" x2="390.38" y2="608"/><line x1="454.17" y1="377.8" x2="454.17" y2="608"/><line x1="517.97" y1="377.8" x2="517.97" y2="608"/><line x1="581.76" y1="377.8" x2="581.76" y2="608"/><line x1="371.5" y1="554.47" x2="613.4" y2="554.47"/><line x1="371.5" y1="500.93" x2="613.4" y2="500.93"/><line x1="371.5" y1="447.4" x2="613.4" y2="447.4"/><line x1="371.5" y1="393.86" x2="613.4" y2="393.86"/></g><g clip-path="url(#c3)" fill="none" stroke-width="2.2" stroke-linejoin="round"><polyline points="422.3,321.3 423.3,382.0 424.6,430.2 425.4,450.5 426.2,467.6 427.1,482.9 428.2,496.8 429.3,508.7 430.6,519.2 432.1,528.5 433.7,536.4 435.6,543.3 437.7,549.2 440.0,554.2 441.3,556.4 442.7,558.5 444.0,560.1 445.9,562.2 449.1,564.9 451.0,566.2 452.9,567.2 456.7,568.9 461.2,570.2 466.9,571.2 473.3,571.6 481.0,571.7 489.3,571.3 498.8,570.5 509.7,569.2 521.8,567.5 536.5,565.3 553.1,562.5 594.5,555.0" stroke="url(#g34)"/><polyline points="422.3,196.3 423.3,283.8 424.6,353.2 425.4,382.5 426.2,407.3 427.1,429.3 428.2,449.4 429.3,466.6 430.6,481.8 432.1,495.3 433.7,506.8 435.6,516.9 437.7,525.5 440.0,532.9 441.3,536.2 442.7,539.2 444.0,541.7 445.9,544.9 447.2,546.7 449.1,549.0 451.0,551.0 452.9,552.6 454.8,554.0 457.4,555.6 459.9,556.9 462.5,557.9 465.0,558.7 468.2,559.5 471.4,560.1 474.6,560.5 481.6,560.9 489.9,560.7 499.5,560.1 510.3,558.8 522.4,557.1 536.5,554.7 553.1,551.5 572.2,547.6 594.5,542.8" stroke="url(#g35)"/><polyline points="423.4,179.7 424.8,270.4 426.2,335.9 427.1,364.5 428.0,390.0 429.1,412.5 430.3,432.7 431.6,450.1 433.1,465.9 434.7,479.5 436.6,491.6 438.6,502.1 441.0,511.3 443.3,518.4 444.6,521.6 446.5,525.8 447.8,528.2 449.7,531.3 451.6,534.0 453.5,536.2 455.5,538.2 457.4,539.9 459.3,541.3 461.8,542.9 464.4,544.3 466.9,545.4 469.5,546.3 472.7,547.2 475.9,547.8 479.1,548.3 482.9,548.7 486.7,548.9 495.0,548.8 504.6,548.1 514.8,546.9 526.9,544.9 540.9,542.3 556.2,539.0 574.1,534.9 594.5,530.0" stroke="url(#g36)"/><polyline points="424.9,179.7 426.4,260.4 427.2,294.7 428.0,324.4 429.0,351.3 430.1,376.4 431.3,398.4 432.6,417.6 434.0,434.7 435.6,449.8 437.4,463.4 439.4,475.4 441.4,485.4 444.0,495.1 446.5,502.7 447.8,506.0 449.7,510.2 451.0,512.6 452.9,515.9 454.8,518.7 456.7,521.1 458.6,523.2 461.2,525.6 463.1,527.1 465.7,528.9 468.2,530.3 470.8,531.6 474.0,532.8 477.1,533.7 480.3,534.5 483.5,535.0 487.3,535.5 491.2,535.7 495.0,535.8 499.5,535.7 508.4,535.1 518.6,533.9 530.7,531.9 544.1,529.1 558.8,525.8 575.4,521.6 594.5,516.5" stroke="url(#g37)"/><polyline points="426.5,179.7 428.2,255.5 429.1,287.2 430.0,314.7 431.2,340.8 432.4,364.0 433.6,384.5 435.1,403.2 436.7,420.3 438.5,435.4 440.5,449.1 442.7,461.0 445.2,472.1 447.8,480.8 450.3,487.9 451.6,490.9 453.5,495.0 455.5,498.5 457.4,501.5 459.3,504.2 461.2,506.5 463.1,508.6 465.7,510.9 467.6,512.5 470.1,514.2 472.7,515.7 475.9,517.2 478.4,518.3 481.6,519.3 484.8,520.1 488.0,520.7 491.8,521.2 495.6,521.5 499.5,521.6 503.9,521.5 512.9,521.0 523.1,519.7 534.6,517.7 547.3,515.0 561.3,511.5 577.3,507.2 594.5,502.2" stroke="url(#g38)"/><polyline points="428.3,179.7 430.2,251.4 431.2,280.3 432.3,306.7 433.5,330.6 434.8,352.7 436.3,372.9 437.9,390.5 439.6,406.0 441.4,419.8 443.3,431.8 445.9,444.8 448.4,455.2 449.7,459.6 451.6,465.5 452.9,468.9 454.8,473.6 458.0,480.0 459.9,483.3 461.8,486.1 463.7,488.7 465.7,490.9 467.6,492.9 470.1,495.3 472.7,497.3 475.2,499.0 477.8,500.4 481.0,501.9 483.5,502.9 486.7,503.9 489.9,504.7 493.1,505.3 496.9,505.8 500.7,506.2 504.6,506.3 509.0,506.2 518.0,505.6 527.5,504.4 538.4,502.5 550.5,499.8 563.9,496.3 578.6,492.1 594.5,487.2" stroke="url(#g39)"/><polyline points="430.2,179.7 431.3,215.4 432.3,244.4 433.4,271.2 434.7,296.6 436.0,319.5 437.4,340.0 439.0,358.7 440.7,375.8 442.7,391.6 444.6,404.6 447.2,418.7 449.7,430.1 452.3,439.5 453.5,443.6 455.5,449.0 458.6,456.7 461.8,462.9 463.7,466.1 465.7,468.9 467.6,471.5 470.1,474.4 472.0,476.4 474.6,478.7 477.1,480.6 479.7,482.3 482.2,483.8 485.4,485.3 488.0,486.3 491.2,487.4 494.4,488.2 498.2,489.0 501.4,489.4 505.2,489.7 512.9,489.9 517.3,489.7 521.8,489.4 531.4,488.1 541.6,486.3 553.1,483.7 565.8,480.3 579.2,476.3 594.5,471.3" stroke="url(#g40)"/><polyline points="432.4,179.7 433.6,213.0 434.7,239.4 435.9,264.7 437.3,287.8 438.8,309.3 440.4,328.6 442.1,345.9 444.0,362.4 445.9,376.2 447.8,387.9 450.3,400.9 452.9,411.7 455.5,420.7 458.6,429.9 461.8,437.5 463.7,441.4 465.7,444.9 467.6,448.0 469.5,450.8 471.4,453.3 474.0,456.2 475.9,458.2 478.4,460.5 481.0,462.5 483.5,464.3 486.1,465.8 489.3,467.4 491.8,468.5 495.0,469.6 498.2,470.5 502.0,471.3 505.2,471.8 509.0,472.2 512.9,472.4 516.7,472.4 521.2,472.3 525.6,472.0 534.6,470.9 544.8,469.1 555.6,466.6 567.7,463.3 580.5,459.3 594.5,454.6" stroke="url(#g41)"/><polyline points="434.8,179.7 436.2,211.2 437.3,234.0 438.7,256.9 440.1,277.9 441.4,294.3 443.3,314.9 445.2,332.1 447.2,346.7 449.1,359.1 451.6,373.1 454.2,384.8 456.7,394.5 459.9,404.7 463.1,413.1 466.3,420.0 468.2,423.7 470.1,426.9 472.0,429.9 474.0,432.5 475.9,434.9 478.4,437.8 481.0,440.3 483.5,442.5 486.1,444.4 488.6,446.0 491.2,447.5 494.4,449.0 496.9,450.1 500.1,451.2 503.3,452.0 506.5,452.7 509.7,453.2 513.5,453.6 517.3,453.9 521.2,453.9 529.4,453.5 538.4,452.5 547.9,450.7 558.2,448.4 569.6,445.2 581.8,441.4 594.5,437.0" stroke="url(#g42)"/><polyline points="437.5,179.7 439.0,206.9 440.3,228.4 442.1,253.6 443.3,269.1 445.2,289.2 447.2,306.1 449.1,320.7 451.0,333.2 452.9,344.1 455.5,356.6 458.0,367.1 461.2,378.2 464.4,387.3 467.6,395.0 470.8,401.5 472.7,404.9 474.6,407.9 478.4,413.3 480.3,415.6 482.9,418.3 485.4,420.8 488.0,422.9 490.5,424.8 493.1,426.4 495.6,427.8 498.8,429.4 501.4,430.4 504.6,431.5 507.8,432.4 510.9,433.1 514.1,433.6 518.0,434.0 521.8,434.3 525.6,434.3 533.3,434.0 541.6,433.1 551.1,431.4 560.7,429.2 571.6,426.2 582.4,422.7 594.5,418.5" stroke="url(#g43)"/><polyline points="440.6,179.7 443.3,220.0 444.6,235.8 446.5,256.4 448.4,274.1 450.3,289.2 452.3,302.4 454.8,317.5 457.4,330.2 459.9,341.1 462.5,350.4 465.7,360.3 468.8,368.7 472.0,375.8 475.9,382.9 479.7,388.8 481.6,391.4 484.2,394.5 486.1,396.6 488.6,399.1 493.1,402.8 495.6,404.6 498.2,406.2 500.7,407.5 503.9,409.0 506.5,410.0 509.7,411.0 512.9,411.9 516.1,412.6 522.4,413.4 529.4,413.7 537.1,413.4 545.4,412.5 553.7,411.1 563.3,408.9 572.8,406.3 583.0,403.0 594.5,399.0" stroke="url(#g44)"/></g><polyline points="477.78,571.74 483.9,560.89 489.64,548.9 495.26,535.8 500.62,521.59 505.85,506.29 510.82,489.9 515.67,472.44 520.39,453.92 525.11,434.34 529.58,413.71" fill="none" stroke="#808080" stroke-width="2"/><g fill="#ff0000" stroke="#707070" stroke-width="0.7"><circle cx="477.78" cy="571.74" r="3.2"/><circle cx="483.9" cy="560.89" r="3.2"/><circle cx="489.64" cy="548.9" r="3.2"/><circle cx="495.26" cy="535.8" r="3.2"/><circle cx="500.62" cy="521.59" r="3.2"/><circle cx="505.85" cy="506.29" r="3.2"/><circle cx="510.82" cy="489.9" r="3.2"/><circle cx="515.67" cy="472.44" r="3.2"/><circle cx="520.39" cy="453.92" r="3.2"/><circle cx="525.11" cy="434.34" r="3.2"/><circle cx="529.58" cy="413.71" r="3.2"/></g><g font-size="10" fill="#000"><text x="594.42" y="557.86">5</text><text x="598.22" y="545.69">6</text><text x="601.32" y="532.87">7</text><text x="602.02" y="519.36">8</text><text x="602.62" y="505.11">9</text><text x="598.02" y="490.08">10</text><text x="599.02" y="474.22">11</text><text x="599.02" y="457.5">12</text><text x="599.02" y="439.89">13</text><text x="599.02" y="421.36">14</text><text x="599.02" y="401.88">15</text></g><rect x="553.72" y="379.08" width="57.8" height="14.1" fill="#fff"/><text x="576.57" y="389.98" font-size="10.8">(L/min)</text><text x="562.72" y="391.68" font-size="8.1" textLength="9.9" lengthAdjust="spacingAndGlyphs">alv</text><text x="555.07" y="389.98" font-size="10.8" font-style="italic">V</text><circle cx="559.32" cy="378.78" r="0.7" fill="#000"/><rect x="371.5" y="377.8" width="241.9" height="230.2" fill="none" stroke="#333" stroke-width="1.2"/><g stroke="#333" stroke-width="1.2"><line x1="390.38" y1="608" x2="390.38" y2="604.5"/><line x1="454.17" y1="608" x2="454.17" y2="604.5"/><line x1="517.97" y1="608" x2="517.97" y2="604.5"/><line x1="581.76" y1="608" x2="581.76" y2="604.5"/><line x1="371.5" y1="608" x2="375" y2="608"/><line x1="371.5" y1="554.47" x2="375" y2="554.47"/><line x1="371.5" y1="500.93" x2="375" y2="500.93"/><line x1="371.5" y1="447.4" x2="375" y2="447.4"/><line x1="371.5" y1="393.86" x2="375" y2="393.86"/></g><g font-size="19.5"><text x="390.38" y="625.7" text-anchor="middle">0.0</text><text x="454.17" y="625.7" text-anchor="middle">0.5</text><text x="517.97" y="625.7" text-anchor="middle">1.0</text><text x="581.76" y="625.7" text-anchor="middle">1.5</text><text x="367.9" y="614.9" text-anchor="end">0</text><text x="367.9" y="561.37" text-anchor="end">10</text><text x="367.9" y="507.83" text-anchor="end">20</text><text x="367.9" y="454.3" text-anchor="end">30</text><text x="367.9" y="400.76" text-anchor="end">40</text></g><g font-size="19.3" text-anchor="end"><text x="613.4" y="345.1">Stiff lung (E = 20 mbar/L)</text><text x="613.4" y="367.8">7 mm ETT (R = 13 mbar/L/s)</text></g><text x="492.45" y="648.2" font-size="19.5" text-anchor="middle"><tspan font-style="italic">V</tspan><tspan font-size="13.6" dy="3.5">T</tspan><tspan dy="-3.5" dx="1.2"> (L)</tspan></text><text transform="translate(337.6,492.9) rotate(-90)" font-size="19.5" text-anchor="middle">MP (J/min)</text><rect x="644.2" y="92.5" width="7.8" height="137.9" fill="url(#cb)" stroke="#333" stroke-width="1"/><g stroke="#333" stroke-width="1"><line x1="652.0" y1="230.4" x2="655.5" y2="230.4"/><line x1="652.0" y1="202.18" x2="655.5" y2="202.18"/><line x1="652.0" y1="170.1" x2="655.5" y2="170.1"/><line x1="652.0" y1="147.34" x2="655.5" y2="147.34"/><line x1="652.0" y1="115.26" x2="655.5" y2="115.26"/><line x1="652.0" y1="92.5" x2="655.5" y2="92.5"/><line x1="652.0" y1="219.84" x2="654" y2="219.84"/><line x1="652.0" y1="210.52" x2="654" y2="210.52"/></g><g font-size="19.5"><text x="659.5" y="237.3">0.7</text><text x="659.5" y="209.08">1.0</text><text x="659.5" y="177">1.5</text><text x="659.5" y="154.24">2</text><text x="659.5" y="122.16">3</text><text x="659.5" y="99.4">4</text></g><text x="636.5" y="82" font-size="19.5">I:E</text></svg></body></html>
